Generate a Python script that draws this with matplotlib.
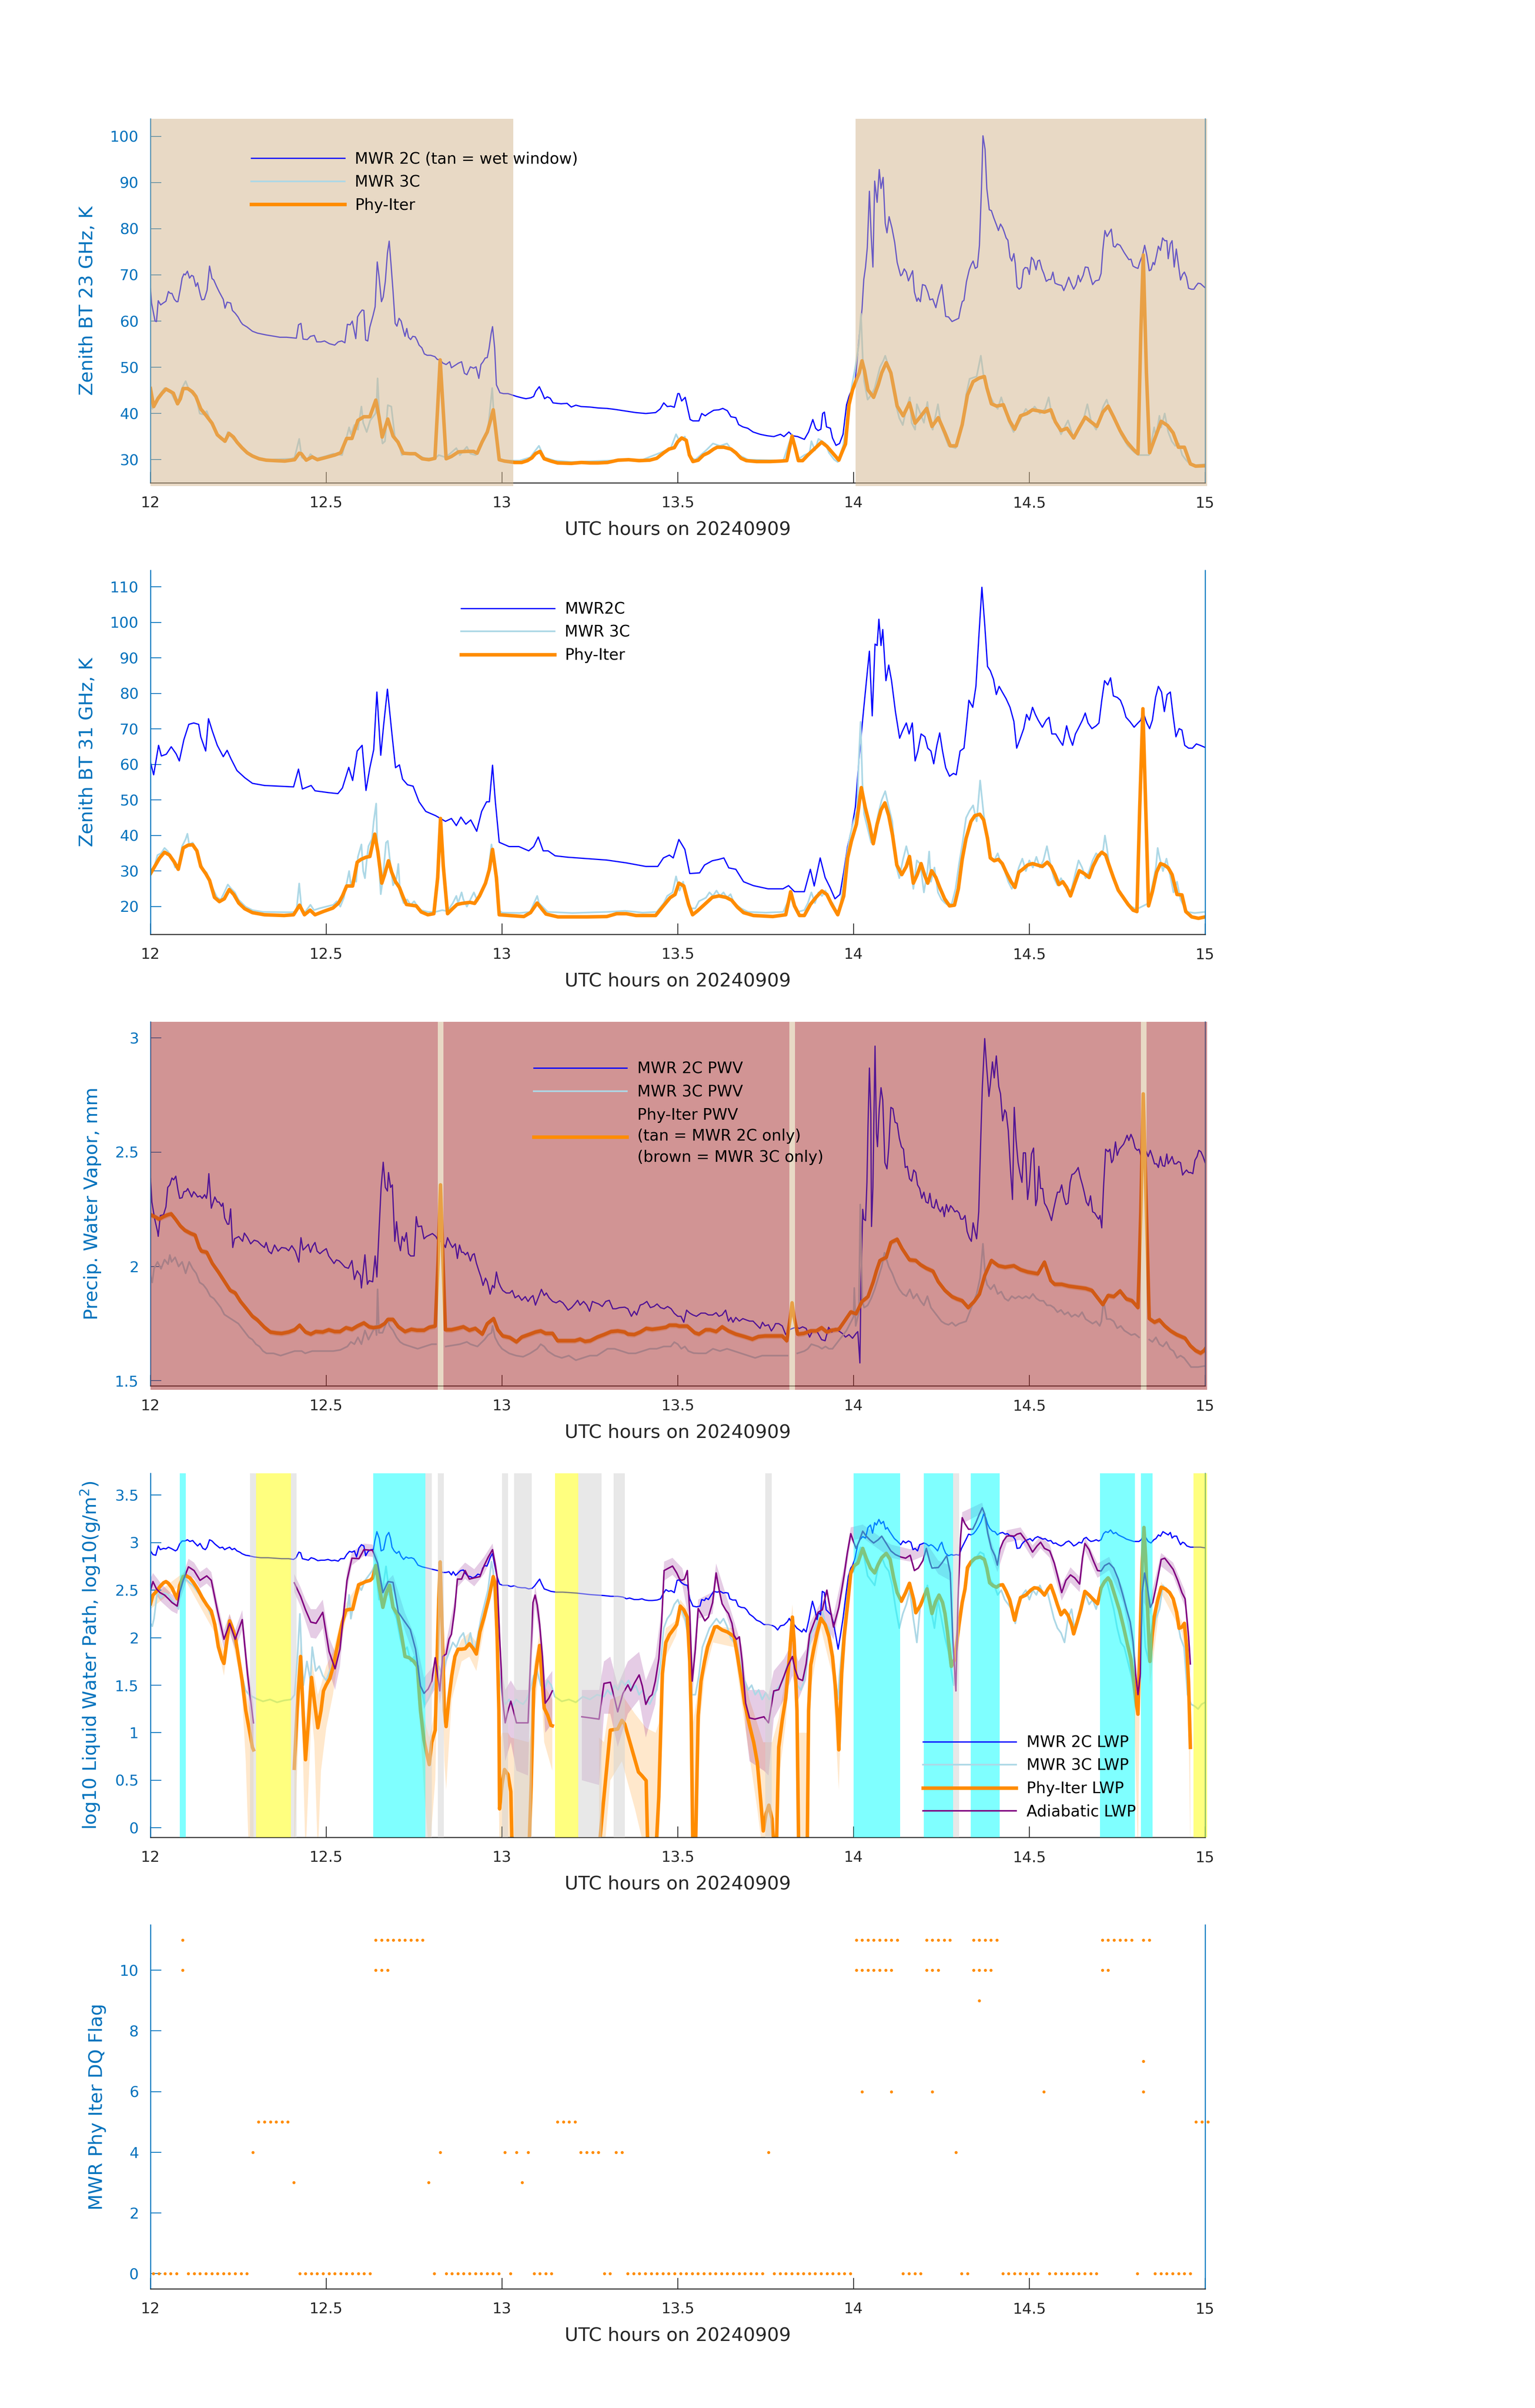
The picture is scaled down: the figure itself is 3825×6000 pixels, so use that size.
import numpy as np
import matplotlib
matplotlib.use("Agg")
import matplotlib.pyplot as plt

# ---------------------------------------------------------------- data
XTICKS = [12, 12.5, 13, 13.5, 14, 14.5, 15]
XTICKLABELS = ["12", "12.5", "13", "13.5", "14", "14.5", "15"]
XLABEL = "UTC hours on 20240909"

# Panel 1 : zenith BT 23 GHz (time [h], K)
BT23_2C = [(12.000,67.0),(12.003,63.9),(12.013,60.0),(12.017,59.9),(12.022,64.4),(12.029,63.5),(12.036,63.9),(12.044,64.3),(12.051,66.4),(12.056,66.0),(12.061,66.0),(12.068,64.7),(12.074,64.2),(12.078,64.2),(12.085,67.0),(12.090,69.3),(12.095,70.2),(12.099,70.0),(12.105,70.8),(12.111,69.3),(12.117,69.9),(12.122,69.7),(12.129,67.5),(12.134,68.3),(12.142,65.6),(12.146,64.6),(12.153,64.7),(12.161,66.7),(12.168,71.9),(12.175,69.2),(12.180,68.9),(12.188,67.5),(12.195,66.4),(12.207,64.7),(12.212,62.8),(12.218,64.1),(12.228,63.9),(12.233,62.3),(12.241,61.7),(12.249,60.9),(12.257,59.8),(12.262,59.3),(12.275,58.7),(12.290,57.8),(12.304,57.4),(12.329,57.0),(12.353,56.7),(12.368,56.5),(12.387,56.5),(12.415,56.3),(12.421,59.2),(12.428,59.5),(12.434,56.1),(12.446,56.0),(12.455,56.7),(12.466,56.9),(12.473,55.5),(12.485,55.5),(12.495,55.7),(12.509,55.1),(12.524,54.8),(12.534,55.5),(12.544,55.7),(12.553,55.3),(12.560,59.3),(12.568,59.2),(12.574,60.0),(12.584,56.2),(12.589,60.9),(12.595,61.7),(12.602,62.4),(12.607,62.3),(12.612,55.9),(12.618,55.7),(12.624,58.7),(12.633,61.2),(12.639,63.1),(12.645,72.8),(12.650,69.7),(12.657,64.2),(12.662,65.2),(12.668,68.6),(12.674,74.7),(12.679,77.3),(12.684,72.5),(12.690,66.4),(12.696,59.5),(12.701,58.9),(12.707,60.6),(12.713,60.0),(12.719,58.1),(12.724,56.7),(12.729,58.4),(12.734,56.5),(12.740,56.0),(12.746,56.7),(12.753,56.6),(12.758,55.9),(12.764,54.8),(12.772,54.2),(12.779,52.9),(12.787,52.6),(12.797,52.6),(12.809,52.3),(12.816,51.7),(12.824,51.6),(12.832,50.9),(12.841,50.6),(12.851,51.2),(12.856,49.9),(12.866,50.4),(12.876,50.9),(12.885,51.2),(12.893,48.7),(12.900,48.4),(12.910,50.1),(12.919,49.8),(12.926,50.1),(12.934,47.6),(12.940,50.6),(12.946,51.2),(12.952,52.0),(12.958,52.1),(12.963,54.0),(12.969,57.3),(12.973,58.8),(12.979,54.2),(12.984,46.2),(12.994,44.5),(13.004,44.3),(13.017,44.3),(13.029,44.0),(13.041,43.7),(13.056,43.4),(13.068,43.2),(13.082,43.4),(13.090,43.7),(13.096,44.8),(13.106,45.8),(13.114,44.5),(13.121,43.2),(13.129,43.6),(13.137,43.3),(13.145,42.3),(13.168,42.1),(13.185,42.2),(13.197,41.4),(13.210,41.8),(13.225,41.5),(13.250,41.4),(13.273,41.2),(13.298,41.1),(13.320,40.9),(13.354,40.5),(13.380,40.2),(13.409,40.0),(13.437,40.2),(13.450,41.0),(13.460,42.3),(13.470,41.5),(13.480,41.6),(13.490,41.35),(13.500,44.3),(13.504,44.3),(13.511,42.7),(13.521,43.5),(13.535,38.7),(13.543,38.4),(13.560,38.4),(13.568,40.0),(13.578,39.5),(13.587,40.0),(13.602,40.7),(13.617,40.8),(13.628,41.1),(13.641,40.6),(13.651,39.3),(13.665,39.1),(13.673,37.6),(13.685,37.1),(13.699,36.8),(13.714,36.0),(13.734,35.5),(13.753,35.2),(13.773,35.0),(13.792,35.5),(13.802,35.0),(13.816,36.0),(13.826,35.2),(13.841,35.0),(13.860,34.4),(13.872,36.0),(13.884,38.7),(13.892,36.8),(13.899,36.3),(13.907,36.6),(13.912,40.0),(13.917,40.3),(13.923,37.1),(13.934,36.8),(13.940,34.7),(13.950,33.1),(13.960,33.5),(13.970,35.5),(13.980,41.9),(13.987,43.7),(13.997,45.6),(14.005,47.2),(14.016,56.8),(14.024,62.6),(14.029,69.0),(14.034,71.7),(14.039,75.9),(14.045,88.1),(14.050,78.6),(14.055,71.7),(14.060,90.3),(14.067,85.7),(14.073,92.8),(14.078,88.7),(14.084,91.1),(14.090,81.2),(14.095,79.1),(14.101,82.6),(14.109,80.2),(14.117,77.0),(14.124,72.7),(14.134,69.8),(14.138,70.1),(14.144,71.3),(14.150,70.6),(14.156,68.7),(14.168,70.9),(14.173,66.3),(14.180,64.3),(14.184,65.0),(14.190,64.2),(14.196,67.9),(14.204,67.7),(14.211,66.3),(14.217,64.6),(14.225,64.8),(14.234,62.9),(14.241,65.3),(14.251,67.9),(14.256,64.7),(14.262,61.0),(14.270,60.9),(14.280,59.9),(14.288,60.2),(14.299,60.6),(14.304,62.6),(14.309,64.2),(14.314,64.5),(14.321,68.5),(14.329,71.1),(14.335,72.3),(14.340,73.0),(14.346,71.4),(14.352,71.7),(14.358,76.4),(14.364,89.2),(14.368,100.1),(14.374,97.2),(14.379,88.7),(14.386,84.1),(14.392,83.9),(14.399,82.3),(14.407,80.7),(14.412,79.6),(14.418,81.0),(14.424,80.2),(14.428,79.4),(14.434,78.0),(14.439,77.5),(14.445,73.8),(14.450,73.0),(14.456,74.6),(14.460,72.4),(14.465,67.4),(14.471,66.9),(14.477,67.3),(14.483,71.1),(14.488,71.6),(14.495,71.5),(14.500,70.1),(14.506,73.8),(14.512,73.2),(14.519,71.1),(14.524,73.0),(14.529,73.2),(14.536,71.2),(14.541,70.3),(14.548,68.6),(14.555,69.0),(14.561,69.0),(14.567,70.6),(14.573,68.2),(14.582,67.9),(14.592,67.7),(14.598,66.6),(14.604,67.7),(14.612,69.5),(14.620,67.9),(14.626,66.9),(14.633,67.9),(14.639,69.9),(14.645,68.5),(14.653,69.9),(14.659,71.7),(14.667,71.6),(14.673,69.8),(14.680,67.9),(14.688,68.7),(14.698,68.9),(14.704,70.3),(14.709,75.4),(14.715,79.6),(14.721,78.3),(14.727,79.1),(14.733,79.9),(14.739,76.2),(14.744,76.0),(14.750,76.7),(14.758,76.4),(14.764,75.6),(14.770,74.8),(14.777,74.0),(14.783,73.3),(14.789,73.4),(14.795,71.9),(14.802,71.6),(14.809,71.4),(14.814,72.7),(14.822,74.3),(14.828,76.4),(14.834,74.3),(14.841,70.9),(14.846,71.1),(14.852,72.7),(14.856,72.2),(14.862,74.3),(14.867,76.2),(14.873,75.3),(14.879,78.0),(14.885,77.4),(14.891,77.4),(14.895,73.5),(14.901,76.7),(14.906,77.4),(14.912,71.7),(14.918,75.6),(14.924,72.2),(14.930,68.9),(14.936,70.1),(14.941,70.6),(14.947,69.5),(14.953,67.1),(14.961,66.9),(14.968,66.9),(14.973,67.5),(14.980,68.2),(14.987,68.1),(14.997,67.4),(15.002,67.1)]

BT23_PI = [(12.000,45.4),(12.009,41.5),(12.021,43.2),(12.033,44.4),(12.044,45.3),(12.056,44.8),(12.065,44.4),(12.077,42.1),(12.085,43.2),(12.093,45.4),(12.106,45.4),(12.119,44.7),(12.129,43.7),(12.143,41.0),(12.158,39.6),(12.175,37.9),(12.190,35.4),(12.202,34.6),(12.212,34.0),(12.223,35.7),(12.236,34.9),(12.246,33.8),(12.260,32.6),(12.275,31.5),(12.290,30.8),(12.309,30.2),(12.329,29.9),(12.353,29.8),(12.382,29.7),(12.410,30.0),(12.423,31.4),(12.429,31.3),(12.443,29.9),(12.460,30.6),(12.475,30.0),(12.495,30.4),(12.524,31.0),(12.541,31.5),(12.558,34.6),(12.573,34.6),(12.590,38.5),(12.607,39.3),(12.624,39.3),(12.641,42.9),(12.650,39.3),(12.659,34.9),(12.675,38.8),(12.690,35.1),(12.704,33.8),(12.719,31.4),(12.738,31.3),(12.753,31.3),(12.773,30.2),(12.792,30.0),(12.809,30.3),(12.817,41.5),(12.824,51.6),(12.832,41.5),(12.841,30.2),(12.856,30.7),(12.876,31.7),(12.900,31.8),(12.919,31.8),(12.929,31.4),(12.943,33.8),(12.958,36.0),(12.968,38.7),(12.975,40.8),(12.982,36.5),(12.992,30.0),(13.007,29.7),(13.036,29.4),(13.056,29.4),(13.072,29.8),(13.085,30.4),(13.095,31.3),(13.108,31.8),(13.120,30.2),(13.139,29.7),(13.158,29.3),(13.197,29.2),(13.226,29.4),(13.250,29.3),(13.273,29.3),(13.300,29.4),(13.330,29.9),(13.360,30.0),(13.390,29.8),(13.420,29.9),(13.440,30.3),(13.460,31.5),(13.475,32.3),(13.490,32.6),(13.500,33.9),(13.511,34.7),(13.524,34.2),(13.533,31.0),(13.543,29.6),(13.558,29.9),(13.573,31.0),(13.587,31.5),(13.602,32.3),(13.612,32.7),(13.631,32.7),(13.651,32.3),(13.665,31.5),(13.680,30.3),(13.695,29.8),(13.724,29.6),(13.763,29.6),(13.792,29.7),(13.810,29.8),(13.825,35.1),(13.836,32.0),(13.843,29.8),(13.855,29.8),(13.870,31.0),(13.888,32.3),(13.909,33.8),(13.924,32.9),(13.940,31.5),(13.958,29.9),(13.968,31.8),(13.977,33.4),(13.987,41.9),(13.997,45.1),(14.010,47.7),(14.016,48.8),(14.024,51.4),(14.031,49.3),(14.041,45.1),(14.057,43.5),(14.070,46.2),(14.080,48.8),(14.093,51.0),(14.106,48.8),(14.114,45.6),(14.124,41.6),(14.141,39.5),(14.159,42.3),(14.175,37.9),(14.190,39.3),(14.208,41.1),(14.223,37.2),(14.241,39.1),(14.260,35.8),(14.275,33.0),(14.292,33.0),(14.309,37.6),(14.324,44.0),(14.340,46.9),(14.358,47.7),(14.372,48.0),(14.379,45.6),(14.392,42.1),(14.407,41.6),(14.426,41.9),(14.444,38.4),(14.458,36.6),(14.475,39.5),(14.493,40.0),(14.509,40.8),(14.524,40.6),(14.543,40.3),(14.561,40.8),(14.574,38.2),(14.590,36.3),(14.607,36.8),(14.626,34.7),(14.641,36.8),(14.659,39.2),(14.675,38.2),(14.692,37.2),(14.709,40.3),(14.724,41.6),(14.740,39.2),(14.758,36.3),(14.777,33.9),(14.795,32.3),(14.809,31.3),(14.817,57.3),(14.824,74.3),(14.833,48.8),(14.842,31.5),(14.856,34.4),(14.875,38.3),(14.893,37.4),(14.909,35.8),(14.924,32.7),(14.941,32.7),(14.958,29.1),(14.973,28.6),(15.002,28.7)]

BT23_3C = [(12.000,45.0),(12.005,41.0),(12.020,43.5),(12.040,45.5),(12.055,45.0),(12.075,42.0),(12.090,45.5),(12.100,47.0),(12.110,45.0),(12.130,43.5),(12.140,40.0),(12.150,39.8),(12.160,40.5),(12.175,37.5),(12.190,35.5),(12.210,33.8),(12.220,36.0),(12.235,34.5),(12.260,32.5),(12.290,30.8),(12.330,30.0),(12.400,30.2),(12.410,30.5),(12.423,34.5),(12.430,30.5),(12.445,29.8),(12.455,31.2),(12.470,30.2),(12.500,30.8),(12.520,31.3),(12.545,31.0),(12.555,34.0),(12.565,37.0),(12.570,35.5),(12.580,37.5),(12.590,36.5),(12.600,41.5),(12.605,38.0),(12.615,36.0),(12.625,38.5),(12.640,40.0),(12.643,42.0),(12.646,47.6),(12.652,38.0),(12.660,33.5),(12.667,34.0),(12.675,41.8),(12.685,41.5),(12.695,35.0),(12.705,33.8),(12.715,31.0),(12.730,31.5),(12.750,31.4),(12.780,30.3),(12.810,30.3),(12.820,31.0),(12.840,30.5),(12.870,32.5),(12.880,31.0),(12.900,32.8),(12.910,31.3),(12.925,31.0),(12.945,34.5),(12.960,36.5),(12.972,45.5),(12.978,38.0),(12.990,30.5),(13.000,29.8),(13.050,29.8),(13.080,30.5),(13.105,33.0),(13.120,30.5),(13.150,29.8),(13.200,29.5),(13.300,29.8),(13.400,30.0),(13.450,31.5),(13.480,32.5),(13.495,35.5),(13.505,34.0),(13.520,35.0),(13.535,30.5),(13.550,30.0),(13.580,32.0),(13.600,33.5),(13.620,33.0),(13.640,33.5),(13.660,31.5),(13.700,30.0),(13.800,29.8),(13.825,35.5),(13.840,30.0),(13.860,31.0),(13.875,31.5),(13.880,34.0),(13.890,32.0),(13.900,34.5),(13.920,33.5),(13.930,31.5),(13.945,30.0),(13.955,29.5),(13.970,33.0),(13.985,40.0),(13.995,46.0),(14.005,50.0),(14.015,55.0),(14.021,61.6),(14.026,52.0),(14.030,47.0),(14.040,43.0),(14.050,44.0),(14.060,45.5),(14.075,50.0),(14.085,51.5),(14.090,52.5),(14.100,50.0),(14.110,47.0),(14.120,42.0),(14.130,39.0),(14.140,37.5),(14.150,41.0),(14.160,43.5),(14.165,38.0),(14.175,36.5),(14.180,42.0),(14.190,40.0),(14.200,38.0),(14.210,42.5),(14.215,38.5),(14.225,36.5),(14.240,42.0),(14.250,37.0),(14.260,35.0),(14.270,33.0),(14.290,32.5),(14.300,35.0),(14.310,38.0),(14.320,44.0),(14.330,47.5),(14.350,48.0),(14.362,52.5),(14.370,48.0),(14.380,45.0),(14.400,42.0),(14.410,41.0),(14.420,43.5),(14.440,38.5),(14.455,36.0),(14.470,38.0),(14.490,41.0),(14.500,40.0),(14.515,41.5),(14.530,40.0),(14.545,41.0),(14.555,43.5),(14.565,39.0),(14.580,37.5),(14.590,35.5),(14.610,38.5),(14.625,34.8),(14.640,37.0),(14.655,39.0),(14.665,42.0),(14.675,38.5),(14.690,36.5),(14.710,41.5),(14.720,43.0),(14.730,40.5),(14.745,38.5),(14.760,35.5),(14.780,33.0),(14.800,31.5),(14.810,31.0),(14.840,31.0),(14.855,37.0),(14.860,35.0),(14.870,39.5),(14.875,37.0),(14.885,40.0),(14.895,36.0),(14.905,34.0),(14.915,33.0),(14.925,33.5),(14.935,31.0),(14.945,30.0),(14.955,29.2),(14.970,28.8),(15.000,29.0)]

# Panel 2 : zenith BT 31 GHz
BT31_2C = [(12.000,60.6),(12.009,57.1),(12.023,65.4),(12.031,62.4),(12.045,62.9),(12.059,65.0),(12.073,63.0),(12.082,61.0),(12.095,67.0),(12.109,71.3),(12.123,71.7),(12.137,71.3),(12.143,67.8),(12.157,63.8),(12.165,72.9),(12.176,69.4),(12.190,65.4),(12.207,62.2),(12.218,64.0),(12.229,61.6),(12.246,58.3),(12.268,56.3),(12.290,54.7),(12.324,54.1),(12.366,53.9),(12.407,53.7),(12.421,58.7),(12.432,53.1),(12.457,54.1),(12.468,52.6),(12.505,52.1),(12.533,51.8),(12.546,53.4),(12.564,59.2),(12.575,55.5),(12.588,63.8),(12.602,65.4),(12.613,52.7),(12.624,59.1),(12.635,64.2),(12.644,80.4),(12.655,62.6),(12.663,70.9),(12.674,81.2),(12.686,69.4),(12.697,59.1),(12.708,59.9),(12.717,55.9),(12.731,54.3),(12.747,53.9),(12.764,49.5),(12.783,46.8),(12.811,45.6),(12.839,44.0),(12.856,44.8),(12.870,42.8),(12.883,45.2),(12.897,43.2),(12.911,44.4),(12.928,41.2),(12.942,46.8),(12.956,49.5),(12.964,49.5),(12.973,59.8),(12.981,49.5),(12.992,38.1),(13.020,36.9),(13.048,36.9),(13.076,35.7),(13.090,36.9),(13.103,39.6),(13.117,35.7),(13.131,35.7),(13.151,34.3),(13.187,33.9),(13.242,33.5),(13.298,33.1),(13.354,32.3),(13.409,31.3),(13.443,31.3),(13.459,33.7),(13.476,34.5),(13.487,33.7),(13.503,38.9),(13.520,36.1),(13.534,29.3),(13.562,29.5),(13.576,31.7),(13.598,32.9),(13.617,33.3),(13.631,33.7),(13.645,30.9),(13.665,30.5),(13.687,27.0),(13.715,25.9),(13.757,25.0),(13.799,25.0),(13.815,25.9),(13.832,24.2),(13.860,24.2),(13.877,30.5),(13.888,25.8),(13.905,33.7),(13.919,28.2),(13.933,25.4),(13.947,22.2),(13.961,23.4),(13.972,29.7),(13.983,36.9),(13.994,41.6),(14.005,48.0),(14.016,62.2),(14.028,74.9),(14.039,86.0),(14.045,91.9),(14.053,73.7),(14.061,93.9),(14.067,93.5),(14.072,100.9),(14.078,93.5),(14.083,98.0),(14.092,83.6),(14.100,88.0),(14.108,83.6),(14.119,74.9),(14.131,67.4),(14.139,69.4),(14.150,71.7),(14.158,68.6),(14.167,71.7),(14.175,61.0),(14.183,63.8),(14.192,68.6),(14.203,67.8),(14.211,64.6),(14.220,63.8),(14.228,60.2),(14.237,65.4),(14.245,68.9),(14.253,63.8),(14.262,59.1),(14.273,56.7),(14.284,57.5),(14.292,57.1),(14.303,63.8),(14.314,64.6),(14.320,70.1),(14.328,78.1),(14.339,76.1),(14.348,82.0),(14.356,95.5),(14.365,109.9),(14.373,99.5),(14.381,87.6),(14.389,86.4),(14.398,84.0),(14.406,79.7),(14.414,82.0),(14.423,80.4),(14.434,78.5),(14.445,76.1),(14.456,72.1),(14.464,64.6),(14.473,67.0),(14.484,70.1),(14.492,74.1),(14.500,72.5),(14.509,76.1),(14.517,74.1),(14.525,72.5),(14.537,70.5),(14.548,72.5),(14.556,73.3),(14.564,68.6),(14.575,68.6),(14.587,66.6),(14.595,65.4),(14.606,70.9),(14.614,67.8),(14.623,65.4),(14.631,68.6),(14.639,70.1),(14.651,72.5),(14.659,74.5),(14.667,71.7),(14.678,70.1),(14.690,70.9),(14.698,71.7),(14.706,78.1),(14.714,83.6),(14.723,82.4),(14.731,84.4),(14.739,79.3),(14.750,78.9),(14.759,78.1),(14.767,76.1),(14.775,73.3),(14.786,72.1),(14.798,70.5),(14.809,71.7),(14.817,72.5),(14.823,74.9),(14.834,71.7),(14.842,70.1),(14.850,72.5),(14.859,78.9),(14.867,82.0),(14.876,80.4),(14.884,74.9),(14.892,79.7),(14.901,80.4),(14.909,73.7),(14.917,67.8),(14.926,70.1),(14.934,69.7),(14.942,65.4),(14.953,64.6),(14.964,64.6),(14.975,65.8),(14.986,65.4),(15.000,64.8)]

BT31_PI = [(12.000,29.3),(12.012,31.3),(12.026,33.7),(12.040,35.3),(12.054,34.5),(12.068,32.5),(12.079,30.5),(12.093,36.5),(12.107,37.3),(12.120,37.4),(12.132,35.7),(12.143,31.3),(12.157,29.3),(12.168,27.4),(12.182,22.6),(12.196,21.4),(12.210,22.2),(12.224,24.8),(12.237,23.4),(12.251,21.0),(12.268,19.4),(12.290,18.3),(12.324,17.7),(12.380,17.5),(12.407,17.7),(12.424,20.4),(12.438,17.7),(12.454,19.0),(12.468,17.7),(12.491,18.6),(12.519,19.6),(12.535,21.0),(12.546,23.0),(12.558,25.8),(12.575,25.8),(12.588,32.5),(12.599,33.3),(12.613,33.9),(12.624,34.1),(12.638,40.4),(12.647,35.3),(12.658,26.6),(12.666,29.0),(12.677,32.9),(12.686,29.7),(12.697,27.0),(12.708,25.4),(12.719,22.6),(12.728,20.6),(12.742,20.4),(12.756,20.2),(12.770,18.5),(12.789,17.7),(12.806,18.0),(12.817,28.2),(12.825,44.8),(12.833,31.3),(12.845,18.0),(12.858,19.3),(12.872,20.6),(12.886,20.9),(12.909,21.2),(12.922,20.9),(12.936,23.0),(12.953,26.6),(12.964,30.5),(12.973,36.1),(12.984,28.2),(12.992,17.7),(13.020,17.5),(13.062,17.2),(13.081,18.3),(13.100,21.0),(13.111,19.6),(13.125,17.9),(13.159,17.1),(13.242,17.1),(13.298,17.2),(13.326,18.0),(13.354,18.0),(13.381,17.5),(13.437,17.5),(13.459,20.2),(13.478,22.5),(13.492,23.4),(13.503,26.6),(13.517,25.8),(13.531,20.6),(13.542,17.7),(13.556,18.8),(13.576,20.6),(13.598,22.6),(13.617,23.0),(13.637,22.6),(13.653,21.8),(13.670,19.8),(13.687,18.3),(13.715,17.5),(13.770,17.2),(13.807,17.7),(13.821,24.2),(13.832,20.2),(13.846,17.5),(13.860,17.5),(13.877,20.6),(13.893,22.6),(13.910,24.4),(13.924,23.4),(13.938,20.6),(13.955,17.7),(13.972,23.0),(13.983,33.7),(13.994,38.5),(14.008,43.2),(14.022,53.5),(14.033,48.0),(14.045,43.2),(14.056,37.7),(14.067,43.2),(14.078,47.2),(14.089,49.2),(14.100,45.6),(14.111,40.0),(14.123,31.7),(14.137,29.0),(14.150,31.3),(14.159,34.1),(14.170,26.6),(14.181,29.0),(14.192,32.1),(14.203,28.6),(14.211,26.6),(14.222,30.1),(14.234,28.2),(14.245,25.4),(14.259,22.2),(14.273,20.2),(14.287,20.4),(14.298,25.0),(14.309,33.3),(14.320,39.2),(14.334,44.0),(14.345,45.6),(14.359,46.0),(14.370,44.4),(14.381,39.2),(14.389,33.7),(14.400,32.9),(14.412,33.3),(14.423,32.1),(14.434,29.7),(14.448,27.0),(14.459,25.4),(14.470,29.7),(14.481,30.5),(14.495,31.7),(14.509,32.1),(14.523,31.7),(14.537,31.3),(14.551,32.5),(14.562,31.3),(14.573,29.0),(14.584,26.2),(14.595,27.0),(14.606,25.4),(14.617,23.0),(14.628,26.2),(14.642,30.1),(14.656,29.3),(14.670,28.2),(14.681,31.3),(14.695,34.1),(14.706,35.3),(14.717,34.5),(14.728,31.3),(14.739,28.2),(14.753,24.6),(14.767,22.6),(14.781,20.6),(14.795,19.0),(14.806,18.6),(14.814,48.0),(14.823,75.7),(14.831,48.0),(14.839,20.2),(14.850,24.2),(14.862,29.7),(14.873,32.1),(14.884,31.7),(14.895,30.9),(14.906,29.0),(14.920,23.4),(14.934,23.3),(14.945,18.6),(14.962,17.1),(14.981,16.7),(15.000,17.1)]

BT31_3C = [(12.000,30.0),(12.010,31.0),(12.020,34.5),(12.030,35.0),(12.040,36.5),(12.050,35.5),(12.060,34.0),(12.070,31.0),(12.080,32.0),(12.090,37.0),(12.100,39.0),(12.105,40.5),(12.110,37.5),(12.120,38.0),(12.130,36.0),(12.140,33.0),(12.150,30.5),(12.160,29.5),(12.170,27.0),(12.180,24.5),(12.190,22.5),(12.200,22.0),(12.210,24.0),(12.220,26.2),(12.230,25.0),(12.240,24.0),(12.250,22.0),(12.270,20.0),(12.290,19.0),(12.320,18.5),(12.400,18.4),(12.415,18.6),(12.423,26.5),(12.430,19.0),(12.440,18.5),(12.455,20.5),(12.465,19.0),(12.480,19.5),(12.500,20.0),(12.520,20.5),(12.530,21.5),(12.540,20.0),(12.550,22.5),(12.565,30.0),(12.570,26.0),(12.580,29.0),(12.585,27.0),(12.590,34.0),(12.600,37.5),(12.605,30.0),(12.610,28.0),(12.615,33.0),(12.620,37.0),(12.630,39.0),(12.635,44.0),(12.642,49.0),(12.645,38.0),(12.650,32.0),(12.655,23.5),(12.660,27.0),(12.670,38.0),(12.675,38.5),(12.680,34.0),(12.690,26.0),(12.700,28.0),(12.705,32.0),(12.710,24.0),(12.720,21.0),(12.730,22.0),(12.740,20.5),(12.750,21.5),(12.760,20.0),(12.770,19.0),(12.790,18.5),(12.810,18.5),(12.830,19.0),(12.840,18.8),(12.850,19.5),(12.860,21.0),(12.870,23.0),(12.875,21.0),(12.885,24.0),(12.890,22.0),(12.900,20.0),(12.910,22.0),(12.920,24.0),(12.930,21.5),(12.940,24.0),(12.950,26.0),(12.960,29.0),(12.970,37.5),(12.975,34.0),(12.985,25.0),(12.990,19.0),(13.000,18.3),(13.050,18.2),(13.080,18.5),(13.100,23.0),(13.105,21.0),(13.115,20.0),(13.130,18.5),(13.200,18.2),(13.300,18.5),(13.350,18.8),(13.400,18.3),(13.440,18.5),(13.460,21.0),(13.470,23.0),(13.485,24.0),(13.495,28.5),(13.505,24.5),(13.515,27.0),(13.525,23.0),(13.535,19.5),(13.550,19.5),(13.560,21.5),(13.580,22.5),(13.590,24.0),(13.600,23.0),(13.610,24.5),(13.620,23.0),(13.630,24.0),(13.640,22.5),(13.650,23.5),(13.660,21.0),(13.680,19.5),(13.700,18.5),(13.750,18.3),(13.800,18.5),(13.820,23.0),(13.830,20.0),(13.840,18.5),(13.860,19.0),(13.870,21.0),(13.880,24.0),(13.890,21.0),(13.900,24.0),(13.910,23.0),(13.920,24.5),(13.930,22.0),(13.940,21.0),(13.950,19.0),(13.960,18.5),(13.970,26.0),(13.980,34.0),(13.990,40.0),(14.000,44.0),(14.010,47.0),(14.015,62.0),(14.020,72.0),(14.025,55.0),(14.030,46.0),(14.040,42.0),(14.050,38.0),(14.060,41.0),(14.070,46.0),(14.080,50.0),(14.090,52.5),(14.100,48.0),(14.110,44.0),(14.120,32.0),(14.130,28.0),(14.140,33.0),(14.150,37.0),(14.160,33.0),(14.170,25.0),(14.180,33.0),(14.190,32.0),(14.200,24.0),(14.210,30.0),(14.215,35.5),(14.220,27.0),(14.230,31.0),(14.240,24.0),(14.250,22.0),(14.260,21.0),(14.270,20.3),(14.280,21.0),(14.290,25.0),(14.300,32.0),(14.310,38.0),(14.320,45.0),(14.330,47.0),(14.340,48.5),(14.350,44.0),(14.360,55.5),(14.370,46.0),(14.380,40.0),(14.390,34.0),(14.400,33.0),(14.410,35.0),(14.420,32.0),(14.430,30.0),(14.440,27.0),(14.450,25.0),(14.460,27.0),(14.470,31.0),(14.480,33.5),(14.490,30.0),(14.500,33.0),(14.510,31.0),(14.520,34.0),(14.530,31.0),(14.540,33.0),(14.550,37.0),(14.560,32.0),(14.570,28.0),(14.580,26.0),(14.590,28.0),(14.600,26.0),(14.610,24.0),(14.620,25.0),(14.630,29.0),(14.640,33.0),(14.650,31.0),(14.660,28.0),(14.670,30.0),(14.680,33.0),(14.690,35.0),(14.700,34.0),(14.710,36.0),(14.715,40.0),(14.720,37.0),(14.730,30.0),(14.740,28.0),(14.750,25.0),(14.770,22.0),(14.790,20.0),(14.800,19.5),(14.810,19.5),(14.840,21.0),(14.850,26.0),(14.860,31.0),(14.865,36.5),(14.870,34.0),(14.880,30.0),(14.890,33.5),(14.900,29.0),(14.910,24.0),(14.920,27.0),(14.930,22.0),(14.940,20.0),(14.950,18.5),(14.970,18.2),(15.000,18.5)]

# Panel 3 : precipitable water vapour (mm)
PWV_2C = [(12.000,2.384),(12.004,2.282),(12.012,2.207),(12.020,2.153),(12.022,2.132),(12.028,2.223),(12.037,2.226),(12.044,2.261),(12.049,2.346),(12.055,2.357),(12.061,2.387),(12.066,2.379),(12.072,2.395),(12.078,2.336),(12.083,2.298),(12.090,2.301),(12.095,2.327),(12.102,2.330),(12.106,2.341),(12.111,2.325),(12.117,2.304),(12.123,2.327),(12.129,2.316),(12.134,2.304),(12.141,2.309),(12.147,2.298),(12.154,2.314),(12.159,2.298),(12.162,2.325),(12.166,2.406),(12.173,2.255),(12.183,2.304),(12.190,2.282),(12.195,2.282),(12.202,2.263),(12.206,2.277),(12.211,2.212),(12.219,2.185),(12.223,2.185),(12.228,2.252),(12.234,2.083),(12.239,2.121),(12.251,2.131),(12.262,2.110),(12.267,2.146),(12.276,2.126),(12.285,2.099),(12.295,2.115),(12.305,2.110),(12.315,2.094),(12.324,2.083),(12.329,2.105),(12.336,2.067),(12.344,2.056),(12.353,2.094),(12.363,2.067),(12.373,2.083),(12.385,2.080),(12.393,2.069),(12.402,2.091),(12.412,2.067),(12.422,2.019),(12.428,2.126),(12.434,2.072),(12.441,2.083),(12.449,2.097),(12.455,2.062),(12.461,2.088),(12.468,2.105),(12.474,2.067),(12.482,2.056),(12.490,2.067),(12.500,2.078),(12.507,2.046),(12.515,2.029),(12.522,2.013),(12.529,2.029),(12.537,2.024),(12.544,2.013),(12.553,1.997),(12.563,1.992),(12.573,2.026),(12.580,1.943),(12.588,1.981),(12.597,1.960),(12.600,1.906),(12.610,2.051),(12.617,1.922),(12.622,1.938),(12.632,1.933),(12.639,2.046),(12.644,1.954),(12.650,2.153),(12.656,2.346),(12.662,2.456),(12.668,2.346),(12.674,2.330),(12.677,2.411),(12.683,2.346),(12.688,2.357),(12.695,2.110),(12.700,2.196),(12.706,2.105),(12.711,2.069),(12.716,2.131),(12.722,2.110),(12.728,2.148),(12.734,2.056),(12.740,2.046),(12.750,2.046),(12.756,2.218),(12.761,2.174),(12.771,2.177),(12.778,2.121),(12.785,2.131),(12.793,2.137),(12.802,2.144),(12.812,2.131),(12.819,2.110),(12.830,2.110),(12.839,2.083),(12.845,2.126),(12.853,2.099),(12.859,2.083),(12.867,2.099),(12.873,2.035),(12.879,2.094),(12.885,2.062),(12.890,2.062),(12.896,2.051),(12.902,2.062),(12.910,2.024),(12.916,2.051),(12.921,2.056),(12.927,2.015),(12.934,1.981),(12.940,1.954),(12.946,1.917),(12.953,1.949),(12.958,1.933),(12.966,1.879),(12.973,1.917),(12.978,1.906),(12.984,1.976),(12.990,1.933),(12.996,1.911),(13.002,1.895),(13.012,1.884),(13.022,1.884),(13.029,1.895),(13.037,1.863),(13.047,1.873),(13.056,1.852),(13.066,1.868),(13.074,1.847),(13.081,1.863),(13.088,1.873),(13.095,1.831),(13.103,1.863),(13.112,1.900),(13.120,1.873),(13.126,1.884),(13.134,1.863),(13.144,1.847),(13.154,1.841),(13.164,1.850),(13.173,1.841),(13.181,1.825),(13.188,1.809),(13.198,1.820),(13.207,1.836),(13.215,1.852),(13.222,1.831),(13.232,1.847),(13.241,1.831),(13.249,1.804),(13.257,1.847),(13.266,1.841),(13.275,1.836),(13.285,1.825),(13.295,1.847),(13.305,1.852),(13.315,1.815),(13.324,1.815),(13.334,1.820),(13.349,1.822),(13.358,1.815),(13.368,1.782),(13.376,1.804),(13.383,1.788),(13.393,1.831),(13.402,1.836),(13.412,1.847),(13.422,1.820),(13.432,1.825),(13.441,1.836),(13.451,1.820),(13.461,1.815),(13.471,1.825),(13.481,1.815),(13.490,1.795),(13.500,1.782),(13.509,1.782),(13.517,1.756),(13.525,1.809),(13.534,1.796),(13.543,1.788),(13.553,1.782),(13.566,1.796),(13.578,1.796),(13.587,1.788),(13.599,1.788),(13.609,1.798),(13.617,1.782),(13.626,1.788),(13.636,1.809),(13.644,1.761),(13.651,1.777),(13.657,1.756),(13.665,1.777),(13.675,1.761),(13.685,1.772),(13.695,1.766),(13.704,1.761),(13.714,1.761),(13.724,1.745),(13.734,1.729),(13.741,1.756),(13.748,1.740),(13.758,1.745),(13.766,1.718),(13.773,1.734),(13.778,1.750),(13.787,1.750),(13.797,1.740),(13.807,1.702),(13.817,1.723),(13.826,1.729),(13.836,1.734),(13.846,1.729),(13.855,1.736),(13.865,1.729),(13.875,1.691),(13.885,1.723),(13.897,1.713),(13.909,1.680),(13.919,1.675),(13.929,1.734),(13.938,1.713),(13.948,1.729),(13.958,1.718),(13.968,1.707),(13.977,1.691),(13.987,1.702),(13.997,1.686),(14.007,1.707),(14.012,1.715),(14.018,1.578),(14.021,1.917),(14.026,2.250),(14.029,2.207),(14.034,2.201),(14.038,2.368),(14.041,2.615),(14.045,2.868),(14.049,2.669),(14.051,2.175),(14.055,2.346),(14.058,2.669),(14.061,2.964),(14.065,2.583),(14.068,2.524),(14.073,2.690),(14.078,2.782),(14.083,2.728),(14.089,2.454),(14.095,2.427),(14.100,2.518),(14.106,2.696),(14.112,2.690),(14.118,2.631),(14.124,2.626),(14.130,2.562),(14.136,2.524),(14.142,2.513),(14.147,2.433),(14.153,2.438),(14.159,2.384),(14.165,2.373),(14.171,2.422),(14.177,2.411),(14.182,2.357),(14.188,2.341),(14.194,2.298),(14.200,2.325),(14.206,2.282),(14.212,2.277),(14.217,2.320),(14.223,2.261),(14.229,2.255),(14.235,2.293),(14.241,2.255),(14.247,2.239),(14.253,2.261),(14.258,2.218),(14.264,2.271),(14.270,2.239),(14.276,2.266),(14.282,2.255),(14.288,2.239),(14.294,2.244),(14.300,2.234),(14.305,2.207),(14.311,2.207),(14.317,2.223),(14.323,2.153),(14.329,2.126),(14.335,2.110),(14.340,2.191),(14.346,2.148),(14.350,2.121),(14.356,2.239),(14.361,2.518),(14.366,2.776),(14.373,2.997),(14.378,2.884),(14.385,2.744),(14.389,2.798),(14.395,2.895),(14.400,2.825),(14.406,2.921),(14.413,2.787),(14.418,2.755),(14.424,2.637),(14.430,2.685),(14.434,2.674),(14.440,2.594),(14.446,2.433),(14.452,2.293),(14.457,2.696),(14.462,2.556),(14.468,2.454),(14.473,2.411),(14.479,2.368),(14.483,2.497),(14.489,2.497),(14.495,2.293),(14.500,2.357),(14.506,2.492),(14.512,2.518),(14.518,2.266),(14.522,2.293),(14.527,2.438),(14.532,2.341),(14.538,2.341),(14.543,2.277),(14.549,2.261),(14.555,2.239),(14.563,2.201),(14.569,2.250),(14.575,2.293),(14.580,2.325),(14.586,2.325),(14.592,2.357),(14.598,2.304),(14.604,2.271),(14.610,2.277),(14.616,2.368),(14.621,2.402),(14.627,2.406),(14.633,2.417),(14.639,2.433),(14.645,2.389),(14.651,2.357),(14.656,2.325),(14.662,2.282),(14.668,2.266),(14.674,2.309),(14.680,2.239),(14.686,2.234),(14.692,2.218),(14.697,2.207),(14.701,2.223),(14.706,2.169),(14.711,2.346),(14.717,2.513),(14.724,2.502),(14.729,2.513),(14.734,2.454),(14.738,2.465),(14.745,2.545),(14.750,2.486),(14.756,2.513),(14.762,2.524),(14.768,2.535),(14.773,2.553),(14.778,2.574),(14.783,2.551),(14.789,2.578),(14.795,2.556),(14.801,2.518),(14.807,2.508),(14.812,2.513),(14.818,2.481),(14.824,2.497),(14.831,2.508),(14.838,2.481),(14.844,2.508),(14.850,2.481),(14.856,2.449),(14.862,2.449),(14.867,2.433),(14.873,2.481),(14.879,2.441),(14.885,2.438),(14.891,2.492),(14.895,2.449),(14.901,2.465),(14.906,2.481),(14.912,2.449),(14.918,2.449),(14.924,2.459),(14.930,2.454),(14.936,2.400),(14.941,2.411),(14.947,2.422),(14.953,2.411),(14.959,2.411),(14.965,2.406),(14.971,2.465),(14.977,2.481),(14.982,2.508),(14.988,2.502),(14.994,2.481),(15.000,2.454)]

PWV_PI = [(12.000,2.226),(12.012,2.218),(12.024,2.207),(12.037,2.218),(12.049,2.226),(12.059,2.230),(12.071,2.207),(12.085,2.177),(12.098,2.158),(12.115,2.144),(12.127,2.137),(12.139,2.083),(12.145,2.067),(12.160,2.062),(12.176,2.013),(12.193,1.976),(12.209,1.938),(12.227,1.895),(12.241,1.884),(12.256,1.847),(12.273,1.815),(12.290,1.782),(12.304,1.766),(12.324,1.734),(12.341,1.713),(12.358,1.709),(12.373,1.707),(12.393,1.713),(12.410,1.723),(12.424,1.743),(12.432,1.729),(12.441,1.713),(12.456,1.704),(12.470,1.715),(12.490,1.713),(12.507,1.723),(12.524,1.715),(12.539,1.715),(12.556,1.732),(12.573,1.725),(12.588,1.739),(12.607,1.753),(12.622,1.736),(12.634,1.732),(12.651,1.736),(12.666,1.750),(12.675,1.768),(12.690,1.768),(12.705,1.736),(12.724,1.715),(12.742,1.725),(12.758,1.721),(12.778,1.721),(12.793,1.734),(12.810,1.739),(12.818,2.024),(12.825,2.357),(12.832,2.024),(12.839,1.723),(12.856,1.723),(12.873,1.729),(12.890,1.736),(12.907,1.721),(12.924,1.729),(12.944,1.704),(12.958,1.750),(12.976,1.772),(12.988,1.723),(13.002,1.696),(13.022,1.689),(13.041,1.670),(13.056,1.691),(13.076,1.702),(13.095,1.713),(13.110,1.718),(13.124,1.707),(13.144,1.707),(13.158,1.675),(13.178,1.675),(13.207,1.675),(13.222,1.682),(13.236,1.672),(13.251,1.675),(13.271,1.691),(13.290,1.702),(13.310,1.715),(13.329,1.718),(13.349,1.713),(13.358,1.704),(13.376,1.702),(13.393,1.713),(13.410,1.729),(13.427,1.725),(13.447,1.729),(13.466,1.734),(13.476,1.743),(13.495,1.743),(13.504,1.739),(13.527,1.739),(13.548,1.710),(13.560,1.704),(13.579,1.723),(13.592,1.723),(13.609,1.715),(13.626,1.736),(13.644,1.718),(13.665,1.704),(13.690,1.693),(13.712,1.682),(13.729,1.693),(13.748,1.696),(13.773,1.696),(13.797,1.696),(13.810,1.675),(13.820,1.777),(13.825,1.841),(13.831,1.777),(13.841,1.704),(13.858,1.707),(13.878,1.718),(13.894,1.718),(13.909,1.732),(13.924,1.713),(13.938,1.721),(13.958,1.725),(13.972,1.756),(13.992,1.801),(14.007,1.793),(14.024,1.847),(14.041,1.868),(14.056,1.933),(14.065,1.981),(14.075,2.026),(14.093,2.040),(14.106,2.105),(14.124,2.119),(14.138,2.078),(14.159,2.029),(14.177,2.026),(14.190,2.008),(14.207,1.992),(14.226,1.979),(14.241,1.933),(14.260,1.895),(14.280,1.868),(14.294,1.858),(14.309,1.850),(14.326,1.820),(14.343,1.847),(14.358,1.879),(14.373,1.960),(14.392,2.026),(14.412,2.003),(14.431,1.997),(14.456,2.003),(14.475,1.986),(14.495,1.976),(14.524,1.968),(14.543,2.019),(14.561,1.938),(14.572,1.922),(14.592,1.922),(14.612,1.914),(14.641,1.908),(14.660,1.904),(14.678,1.895),(14.694,1.863),(14.709,1.833),(14.724,1.873),(14.740,1.868),(14.758,1.893),(14.776,1.858),(14.792,1.850),(14.809,1.820),(14.817,2.239),(14.824,2.755),(14.833,2.239),(14.841,1.772),(14.856,1.756),(14.870,1.766),(14.885,1.740),(14.902,1.718),(14.919,1.702),(14.943,1.686),(14.958,1.653),(14.973,1.632),(14.987,1.621),(14.997,1.632),(15.002,1.643)]
PWV_PI_ERR = 0.012

PWV_3C = [(12.000,1.960),(12.005,1.930),(12.010,1.990),(12.020,2.020),(12.030,1.990),(12.040,2.030),(12.050,2.010),(12.055,2.050),(12.060,2.020),(12.070,2.040),(12.080,2.000),(12.090,2.020),(12.100,1.970),(12.110,2.020),(12.120,1.990),(12.130,1.970),(12.140,1.930),(12.150,1.920),(12.160,1.900),(12.170,1.870),(12.180,1.860),(12.190,1.840),(12.200,1.820),(12.210,1.790),(12.220,1.780),(12.230,1.770),(12.240,1.760),(12.250,1.750),(12.260,1.730),(12.270,1.710),(12.280,1.690),(12.290,1.680),(12.300,1.660),(12.310,1.650),(12.320,1.630),(12.330,1.620),(12.350,1.620),(12.370,1.610),(12.390,1.620),(12.410,1.630),(12.430,1.630),(12.440,1.620),(12.460,1.630),(12.480,1.630),(12.500,1.630),(12.520,1.630),(12.540,1.635),(12.560,1.650),(12.570,1.670),(12.580,1.660),(12.590,1.690),(12.600,1.660),(12.610,1.720),(12.620,1.680),(12.630,1.710),(12.640,1.740),(12.643,1.700),(12.646,1.900),(12.650,1.710),(12.660,1.710),(12.670,1.750),(12.675,1.765),(12.680,1.740),(12.690,1.720),(12.700,1.690),(12.710,1.670),(12.720,1.660),(12.740,1.650),(12.760,1.640),(12.780,1.650),(12.800,1.660),(12.812,1.660),(12.813,np.nan),(12.839,np.nan),(12.840,1.650),(12.860,1.655),(12.880,1.660),(12.900,1.670),(12.910,1.660),(12.930,1.650),(12.950,1.680),(12.960,1.700),(12.970,1.710),(12.973,1.740),(12.980,1.690),(12.990,1.660),(13.000,1.640),(13.020,1.620),(13.040,1.610),(13.060,1.605),(13.080,1.620),(13.100,1.640),(13.110,1.660),(13.120,1.650),(13.130,1.630),(13.150,1.610),(13.170,1.600),(13.190,1.610),(13.210,1.590),(13.230,1.600),(13.250,1.610),(13.270,1.610),(13.290,1.630),(13.300,1.640),(13.320,1.640),(13.340,1.630),(13.360,1.620),(13.380,1.620),(13.400,1.630),(13.420,1.640),(13.440,1.640),(13.460,1.650),(13.480,1.650),(13.490,1.669),(13.500,1.660),(13.510,1.640),(13.520,1.650),(13.530,1.630),(13.545,1.621),(13.560,1.620),(13.580,1.620),(13.600,1.640),(13.620,1.630),(13.640,1.640),(13.660,1.630),(13.680,1.620),(13.700,1.610),(13.720,1.600),(13.740,1.610),(13.760,1.610),(13.780,1.610),(13.800,1.610),(13.812,1.610),(13.813,np.nan),(13.839,np.nan),(13.840,1.620),(13.860,1.630),(13.870,1.640),(13.880,1.660),(13.900,1.650),(13.910,1.640),(13.920,1.650),(13.930,1.640),(13.940,1.640),(13.950,1.660),(13.960,1.680),(13.970,1.700),(13.980,1.720),(13.990,1.750),(14.000,1.780),(14.002,1.906),(14.006,1.740),(14.015,1.800),(14.019,2.271),(14.025,1.850),(14.030,1.820),(14.040,1.830),(14.050,1.860),(14.060,1.900),(14.070,1.950),(14.080,2.000),(14.088,2.060),(14.100,2.000),(14.110,1.970),(14.120,1.930),(14.130,1.900),(14.140,1.880),(14.150,1.870),(14.160,1.900),(14.170,1.860),(14.180,1.880),(14.190,1.850),(14.200,1.830),(14.210,1.870),(14.220,1.820),(14.230,1.800),(14.240,1.780),(14.250,1.760),(14.260,1.750),(14.270,1.745),(14.280,1.755),(14.290,1.740),(14.300,1.750),(14.320,1.760),(14.330,1.800),(14.340,1.840),(14.350,1.880),(14.360,1.950),(14.368,2.099),(14.375,1.950),(14.380,1.920),(14.390,1.900),(14.400,1.920),(14.410,1.880),(14.420,1.890),(14.430,1.860),(14.440,1.850),(14.450,1.870),(14.460,1.860),(14.470,1.870),(14.480,1.860),(14.490,1.870),(14.500,1.860),(14.510,1.880),(14.520,1.860),(14.530,1.850),(14.540,1.850),(14.550,1.830),(14.560,1.830),(14.570,1.820),(14.580,1.800),(14.590,1.810),(14.600,1.790),(14.610,1.800),(14.620,1.780),(14.630,1.790),(14.640,1.780),(14.650,1.800),(14.660,1.770),(14.670,1.760),(14.680,1.750),(14.690,1.760),(14.700,1.740),(14.705,1.760),(14.711,1.852),(14.720,1.770),(14.730,1.770),(14.740,1.760),(14.750,1.730),(14.760,1.740),(14.770,1.720),(14.780,1.710),(14.790,1.700),(14.800,1.705),(14.812,1.690),(14.813,np.nan),(14.839,np.nan),(14.841,1.680),(14.850,1.670),(14.860,1.690),(14.870,1.660),(14.880,1.650),(14.890,1.670),(14.900,1.640),(14.910,1.630),(14.920,1.600),(14.930,1.610),(14.940,1.600),(14.950,1.580),(14.960,1.560),(14.970,1.560),(14.980,1.560),(15.000,1.565)]

# Panel 4 : log10 liquid water path
LWP_2C = [(12.000,2.913),(12.007,2.874),(12.015,2.867),(12.022,2.965),(12.028,2.926),(12.037,2.939),(12.044,2.934),(12.051,2.952),(12.061,2.934),(12.071,2.913),(12.076,2.926),(12.083,2.986),(12.090,3.017),(12.098,3.017),(12.105,3.030),(12.112,3.012),(12.120,3.022),(12.126,2.996),(12.134,2.965),(12.141,2.991),(12.149,2.939),(12.156,2.926),(12.161,2.952),(12.168,3.030),(12.175,3.017),(12.183,2.986),(12.190,2.965),(12.197,2.944),(12.205,2.952),(12.211,2.926),(12.217,2.939),(12.225,2.952),(12.232,2.926),(12.239,2.939),(12.246,2.913),(12.254,2.900),(12.261,2.882),(12.271,2.867),(12.280,2.862),(12.295,2.849),(12.314,2.841),(12.334,2.841),(12.353,2.836),(12.373,2.831),(12.393,2.831),(12.407,2.823),(12.414,2.841),(12.422,2.900),(12.427,2.893),(12.432,2.831),(12.441,2.823),(12.449,2.815),(12.457,2.841),(12.466,2.831),(12.476,2.810),(12.485,2.815),(12.495,2.815),(12.505,2.823),(12.515,2.810),(12.524,2.815),(12.534,2.805),(12.541,2.831),(12.551,2.831),(12.558,2.874),(12.566,2.908),(12.573,2.900),(12.580,2.913),(12.586,2.849),(12.593,2.944),(12.600,2.978),(12.607,2.965),(12.612,2.862),(12.619,2.908),(12.627,2.926),(12.634,2.926),(12.638,3.017),(12.644,3.115),(12.651,3.042),(12.656,2.913),(12.663,2.926),(12.671,3.068),(12.678,3.107),(12.683,3.042),(12.687,2.952),(12.693,2.913),(12.700,2.887),(12.707,2.908),(12.713,2.856),(12.720,2.823),(12.727,2.849),(12.734,2.836),(12.742,2.841),(12.749,2.831),(12.754,2.805),(12.761,2.763),(12.773,2.745),(12.788,2.732),(12.802,2.719),(12.817,2.706),(12.832,2.686),(12.841,2.686),(12.849,2.694),(12.856,2.660),(12.861,2.694),(12.868,2.655),(12.875,2.681),(12.882,2.706),(12.890,2.712),(12.895,2.681),(12.902,2.650),(12.910,2.642),(12.917,2.629),(12.924,2.642),(12.931,2.668),(12.939,2.660),(12.945,2.732),(12.951,2.758),(12.957,2.753),(12.961,2.789),(12.966,2.841),(12.973,2.887),(12.978,2.784),(12.986,2.642),(12.993,2.564),(13.002,2.551),(13.015,2.551),(13.025,2.538),(13.035,2.546),(13.044,2.531),(13.056,2.525),(13.066,2.525),(13.076,2.513),(13.086,2.520),(13.093,2.546),(13.100,2.582),(13.107,2.616),(13.113,2.564),(13.120,2.513),(13.130,2.500),(13.139,2.487),(13.154,2.479),(13.173,2.479),(13.193,2.474),(13.212,2.469),(13.232,2.461),(13.251,2.453),(13.271,2.448),(13.290,2.443),(13.310,2.435),(13.329,2.435),(13.344,2.427),(13.354,2.409),(13.363,2.417),(13.376,2.401),(13.388,2.401),(13.398,2.409),(13.407,2.396),(13.417,2.391),(13.427,2.391),(13.441,2.396),(13.451,2.409),(13.458,2.461),(13.466,2.505),(13.474,2.487),(13.481,2.495),(13.490,2.474),(13.498,2.603),(13.504,2.608),(13.511,2.577),(13.519,2.557),(13.527,2.551),(13.534,2.409),(13.543,2.332),(13.553,2.324),(13.563,2.332),(13.568,2.401),(13.576,2.391),(13.580,2.417),(13.587,2.401),(13.595,2.448),(13.602,2.487),(13.612,2.479),(13.621,2.487),(13.629,2.469),(13.636,2.474),(13.643,2.469),(13.648,2.409),(13.656,2.396),(13.665,2.396),(13.672,2.332),(13.680,2.319),(13.690,2.314),(13.696,2.293),(13.704,2.247),(13.714,2.221),(13.724,2.184),(13.734,2.169),(13.745,2.138),(13.758,2.138),(13.771,2.125),(13.777,2.112),(13.784,2.081),(13.792,2.125),(13.802,2.133),(13.812,2.169),(13.817,2.203),(13.823,2.164),(13.831,2.138),(13.839,2.099),(13.846,2.081),(13.853,2.060),(13.858,2.091),(13.865,2.060),(13.873,2.190),(13.878,2.293),(13.883,2.383),(13.890,2.293),(13.896,2.190),(13.900,2.267),(13.906,2.241),(13.911,2.487),(13.917,2.474),(13.922,2.293),(13.929,2.267),(13.936,2.241),(13.943,2.151),(13.950,2.009),(13.956,1.879),(13.963,2.035),(13.970,2.203),(13.978,2.448),(13.985,2.642),(13.992,2.732),(13.997,2.758),(14.004,2.836),(14.012,2.978),(14.018,3.030),(14.026,3.063),(14.034,3.048),(14.041,3.159),(14.048,3.185),(14.054,3.099),(14.060,3.210),(14.065,3.185),(14.072,3.244),(14.078,3.198),(14.085,3.223),(14.091,3.141),(14.096,3.159),(14.102,3.120),(14.109,3.081),(14.116,3.042),(14.124,3.017),(14.134,2.978),(14.141,3.017),(14.148,2.996),(14.156,3.017),(14.163,3.004),(14.169,2.926),(14.175,2.939),(14.182,2.913),(14.188,2.978),(14.194,2.986),(14.200,2.996),(14.207,2.986),(14.214,2.965),(14.220,2.978),(14.226,2.965),(14.233,2.939),(14.239,2.913),(14.246,2.978),(14.251,3.004),(14.256,2.939),(14.262,2.887),(14.270,2.862),(14.278,2.874),(14.285,2.867),(14.292,2.874),(14.300,2.867),(14.307,2.939),(14.314,2.991),(14.321,3.042),(14.327,3.089),(14.334,3.081),(14.341,3.094),(14.348,3.125),(14.356,3.172),(14.363,3.223),(14.370,3.301),(14.376,3.262),(14.381,3.198),(14.387,3.151),(14.395,3.120),(14.402,3.115),(14.409,3.081),(14.416,3.099),(14.424,3.107),(14.431,3.089),(14.438,3.094),(14.446,3.068),(14.454,3.063),(14.460,3.030),(14.465,2.939),(14.473,2.944),(14.480,2.991),(14.487,3.017),(14.495,3.030),(14.502,3.042),(14.509,3.017),(14.516,3.048),(14.524,3.063),(14.532,3.048),(14.538,3.037),(14.545,3.042),(14.553,3.017),(14.561,3.022),(14.568,2.991),(14.575,2.996),(14.582,2.978),(14.590,2.965),(14.597,2.978),(14.604,3.004),(14.612,3.017),(14.619,2.996),(14.626,2.965),(14.633,2.978),(14.641,3.004),(14.649,2.996),(14.655,3.042),(14.662,3.055),(14.668,3.030),(14.675,3.012),(14.682,3.017),(14.690,3.030),(14.697,3.017),(14.704,3.030),(14.711,3.094),(14.717,3.115),(14.724,3.107),(14.731,3.133),(14.739,3.094),(14.746,3.107),(14.753,3.081),(14.760,3.068),(14.768,3.055),(14.776,3.037),(14.782,3.030),(14.789,3.022),(14.797,3.012),(14.805,3.012),(14.812,3.012),(14.818,3.030),(14.824,3.068),(14.831,3.055),(14.838,3.012),(14.846,2.996),(14.854,3.030),(14.860,3.042),(14.867,3.081),(14.873,3.068),(14.880,3.115),(14.887,3.099),(14.895,3.081),(14.901,3.107),(14.906,3.048),(14.912,3.068),(14.919,3.068),(14.924,3.022),(14.930,2.978),(14.936,3.004),(14.941,2.996),(14.948,2.965),(14.958,2.952),(14.973,2.952),(14.987,2.952),(15.002,2.944)]

LWP_PI = [(12.000,2.357),(12.007,2.448),(12.017,2.487),(12.027,2.538),(12.037,2.577),(12.044,2.590),(12.051,2.572),(12.061,2.525),(12.069,2.461),(12.076,2.409),(12.083,2.551),(12.093,2.642),(12.102,2.650),(12.112,2.629),(12.122,2.582),(12.134,2.513),(12.147,2.422),(12.160,2.345),(12.173,2.280),(12.183,2.138),(12.193,1.905),(12.203,1.776),(12.209,1.729),(12.217,1.957),(12.225,2.177),(12.232,2.112),(12.241,2.009),(12.251,1.776),(12.261,1.543),(12.271,1.233),(12.280,1.052),(12.290,0.846),(12.293,0.820),(12.300,np.nan),(12.405,np.nan),(12.409,0.626),(12.417,1.233),(12.427,1.802),(12.434,1.233),(12.441,0.716),(12.449,1.104),(12.458,1.582),(12.466,1.337),(12.476,1.052),(12.485,1.233),(12.492,1.440),(12.500,1.504),(12.510,1.569),(12.519,1.686),(12.527,1.828),(12.537,2.009),(12.546,2.164),(12.556,2.288),(12.566,2.298),(12.575,2.298),(12.583,2.422),(12.592,2.557),(12.602,2.572),(12.612,2.590),(12.625,2.603),(12.632,2.629),(12.641,2.758),(12.651,2.525),(12.661,2.319),(12.671,2.474),(12.680,2.551),(12.690,2.319),(12.703,2.241),(12.715,2.009),(12.724,1.802),(12.736,1.789),(12.749,1.750),(12.759,1.698),(12.768,1.233),(12.778,0.923),(12.785,0.794),(12.793,0.665),(12.800,0.897),(12.810,1.027),(12.815,1.750),(12.820,2.396),(12.824,2.797),(12.830,2.060),(12.836,1.233),(12.841,1.065),(12.849,1.362),(12.857,1.600),(12.866,1.802),(12.875,1.879),(12.885,1.879),(12.895,1.884),(12.907,1.936),(12.917,1.892),(12.927,1.828),(12.937,2.060),(12.949,2.216),(12.956,2.319),(12.963,2.422),(12.970,2.551),(12.975,2.642),(12.980,2.577),(12.986,2.009),(12.991,1.233),(12.993,0.199),(13.000,0.458),(13.007,0.613),(13.017,0.561),(13.025,0.380),(13.029,-0.300),(13.076,-0.300),(13.083,0.458),(13.090,1.466),(13.100,1.750),(13.107,1.918),(13.113,1.595),(13.120,1.259),(13.130,1.182),(13.139,1.078),(13.143,1.073),(13.150,np.nan),(13.270,np.nan),(13.274,-0.300),(13.290,0.329),(13.308,1.027),(13.317,1.032),(13.329,1.039),(13.341,1.130),(13.349,1.091),(13.358,0.975),(13.368,0.846),(13.378,0.716),(13.388,0.587),(13.398,0.548),(13.410,0.496),(13.415,-0.300),(13.437,-0.300),(13.446,0.329),(13.456,1.621),(13.466,1.950),(13.476,2.030),(13.490,2.100),(13.497,2.138),(13.507,2.332),(13.517,2.293),(13.527,2.216),(13.534,1.750),(13.538,1.182),(13.543,-0.300),(13.550,-0.300),(13.558,1.182),(13.566,1.543),(13.576,1.750),(13.585,1.905),(13.595,2.009),(13.605,2.112),(13.612,2.117),(13.626,2.081),(13.641,2.060),(13.651,2.035),(13.660,2.009),(13.670,1.802),(13.680,1.569),(13.690,1.311),(13.704,1.078),(13.716,0.897),(13.726,0.691),(13.736,0.277),(13.743,-0.033),(13.751,0.148),(13.759,0.238),(13.768,0.096),(13.775,-0.300),(13.780,-0.300),(13.787,0.846),(13.797,1.130),(13.807,1.362),(13.817,1.776),(13.826,2.216),(13.831,1.957),(13.839,1.233),(13.844,-0.300),(13.868,-0.300),(13.872,1.233),(13.878,1.711),(13.888,1.905),(13.897,2.060),(13.907,2.203),(13.919,2.138),(13.930,2.009),(13.940,1.802),(13.948,1.492),(13.954,1.156),(13.958,0.820),(13.966,1.621),(13.973,2.009),(13.982,2.319),(13.992,2.681),(14.002,2.758),(14.012,2.784),(14.019,2.862),(14.026,2.939),(14.036,2.836),(14.048,2.732),(14.060,2.681),(14.070,2.771),(14.080,2.841),(14.093,2.887),(14.104,2.823),(14.114,2.629),(14.124,2.474),(14.136,2.383),(14.148,2.474),(14.159,2.572),(14.171,2.401),(14.177,2.262),(14.190,2.339),(14.209,2.513),(14.223,2.254),(14.233,2.376),(14.243,2.448),(14.253,2.371),(14.260,2.254),(14.267,2.060),(14.278,1.698),(14.288,1.776),(14.300,2.138),(14.309,2.371),(14.317,2.513),(14.324,2.738),(14.334,2.797),(14.346,2.836),(14.360,2.849),(14.372,2.823),(14.379,2.732),(14.387,2.577),(14.397,2.546),(14.407,2.531),(14.414,2.551),(14.424,2.557),(14.434,2.487),(14.444,2.401),(14.451,2.293),(14.458,2.184),(14.465,2.293),(14.475,2.422),(14.490,2.448),(14.504,2.500),(14.514,2.525),(14.524,2.520),(14.534,2.487),(14.543,2.448),(14.553,2.513),(14.561,2.551),(14.571,2.448),(14.580,2.345),(14.590,2.241),(14.600,2.288),(14.610,2.236),(14.620,2.138),(14.626,2.040),(14.636,2.164),(14.646,2.293),(14.658,2.487),(14.670,2.448),(14.680,2.409),(14.694,2.357),(14.704,2.525),(14.714,2.590),(14.724,2.629),(14.731,2.590),(14.743,2.448),(14.756,2.293),(14.768,2.112),(14.779,1.931),(14.789,1.776),(14.797,1.543),(14.803,1.337),(14.809,1.195),(14.815,2.009),(14.821,2.784),(14.826,3.159),(14.831,2.836),(14.836,2.319),(14.843,1.750),(14.849,2.009),(14.855,2.216),(14.865,2.396),(14.875,2.531),(14.887,2.513),(14.899,2.474),(14.909,2.409),(14.919,2.267),(14.926,2.099),(14.934,2.112),(14.941,2.151),(14.948,1.879),(14.953,1.518),(14.958,0.846)]

LWP_ADB = [(12.000,2.500),(12.007,2.590),(12.017,2.513),(12.027,2.474),(12.040,2.448),(12.051,2.409),(12.061,2.370),(12.076,2.332),(12.083,2.474),(12.093,2.603),(12.108,2.745),(12.124,2.706),(12.141,2.603),(12.160,2.650),(12.173,2.603),(12.190,2.293),(12.209,1.983),(12.225,2.151),(12.241,1.983),(12.261,2.190),(12.276,1.621),(12.285,1.337),(12.293,1.104),(12.300,np.nan),(12.405,np.nan),(12.409,2.577),(12.427,2.435),(12.441,2.293),(12.456,2.164),(12.471,2.151),(12.490,2.267),(12.508,1.854),(12.525,1.673),(12.539,1.879),(12.559,2.603),(12.573,2.836),(12.593,2.831),(12.607,2.926),(12.632,2.918),(12.646,2.784),(12.661,2.474),(12.676,2.590),(12.690,2.582),(12.705,2.267),(12.724,2.164),(12.739,2.086),(12.754,1.879),(12.768,1.492),(12.778,1.414),(12.790,1.461),(12.800,1.543),(12.810,1.789),(12.816,1.621),(12.823,1.440),(12.831,1.802),(12.841,1.828),(12.849,1.983),(12.856,2.035),(12.866,2.319),(12.873,2.616),(12.885,2.616),(12.895,2.706),(12.907,2.616),(12.921,2.629),(12.937,2.642),(12.949,2.758),(12.961,2.849),(12.973,2.926),(12.980,2.784),(12.986,2.642),(12.993,2.009),(13.002,1.337),(13.009,1.104),(13.017,1.233),(13.025,1.332),(13.034,1.207),(13.041,1.104),(13.056,1.104),(13.074,1.104),(13.081,1.750),(13.088,2.370),(13.094,2.448),(13.100,2.345),(13.107,2.138),(13.115,1.802),(13.123,1.311),(13.133,1.362),(13.143,1.440),(13.150,np.nan),(13.222,np.nan),(13.227,1.168),(13.251,1.156),(13.276,1.143),(13.283,1.337),(13.290,1.518),(13.308,1.531),(13.320,1.362),(13.329,1.220),(13.344,1.414),(13.358,1.504),(13.366,1.440),(13.376,1.518),(13.390,1.608),(13.399,1.492),(13.409,1.298),(13.419,1.375),(13.427,1.401),(13.436,1.543),(13.446,1.776),(13.454,2.164),(13.461,2.706),(13.474,2.732),(13.485,2.753),(13.497,2.681),(13.505,2.616),(13.511,2.603),(13.519,2.616),(13.527,2.706),(13.534,2.267),(13.541,1.543),(13.550,1.879),(13.558,2.306),(13.568,2.241),(13.577,2.177),(13.587,2.216),(13.599,2.370),(13.609,2.681),(13.619,2.474),(13.626,2.357),(13.636,2.293),(13.644,2.254),(13.654,2.151),(13.660,2.022),(13.667,1.983),(13.675,2.009),(13.683,1.750),(13.693,1.311),(13.704,1.156),(13.719,1.143),(13.732,1.156),(13.745,1.168),(13.758,1.104),(13.773,1.440),(13.787,1.453),(13.802,1.595),(13.812,1.698),(13.826,1.802),(13.833,1.673),(13.843,1.569),(13.855,1.549),(13.865,1.724),(13.875,2.035),(13.888,2.164),(13.899,2.267),(13.911,2.293),(13.924,2.500),(13.930,2.370),(13.943,2.112),(13.958,2.319),(13.973,2.655),(13.982,2.887),(13.992,3.094),(13.999,3.017),(14.007,2.939),(14.016,3.017),(14.026,3.120),(14.036,3.068),(14.046,3.030),(14.057,2.996),(14.070,3.030),(14.080,3.068),(14.093,2.991),(14.106,2.913),(14.119,2.874),(14.134,2.849),(14.148,2.836),(14.161,2.867),(14.173,2.706),(14.184,2.732),(14.197,2.810),(14.207,2.939),(14.217,2.797),(14.223,2.732),(14.241,2.738),(14.251,2.784),(14.265,2.862),(14.275,2.681),(14.282,2.009),(14.288,1.621),(14.291,1.440),(14.297,2.396),(14.304,3.042),(14.309,3.262),(14.317,3.198),(14.327,3.141),(14.339,3.141),(14.348,3.210),(14.358,3.301),(14.366,3.366),(14.373,3.301),(14.382,3.094),(14.392,2.939),(14.402,2.862),(14.409,2.763),(14.416,2.926),(14.426,3.017),(14.436,3.068),(14.446,3.073),(14.457,3.068),(14.465,3.089),(14.475,3.099),(14.485,3.048),(14.495,2.996),(14.509,2.900),(14.522,2.965),(14.532,3.004),(14.543,2.939),(14.558,2.913),(14.571,2.784),(14.580,2.655),(14.592,2.474),(14.604,2.603),(14.617,2.660),(14.629,2.629),(14.643,2.564),(14.651,2.836),(14.658,2.991),(14.670,2.926),(14.682,2.810),(14.694,2.706),(14.704,2.701),(14.714,2.758),(14.727,2.784),(14.740,2.732),(14.753,2.616),(14.766,2.448),(14.777,2.293),(14.787,2.164),(14.795,1.957),(14.802,1.621),(14.809,1.401),(14.816,1.621),(14.821,2.474),(14.828,2.681),(14.836,2.525),(14.844,2.319),(14.851,2.370),(14.860,2.525),(14.875,2.823),(14.885,2.836),(14.896,2.784),(14.909,2.719),(14.922,2.603),(14.934,2.474),(14.943,2.409),(14.953,2.009),(14.958,1.724)]

LWP_3C = [(12.000,2.15),(12.005,2.12),(12.010,2.20),(12.020,2.50),(12.030,2.42),(12.040,2.47),(12.050,2.45),(12.060,2.40),(12.070,2.35),(12.080,2.30),(12.085,2.55),(12.090,2.65),(12.100,2.62),(12.110,2.58),(12.120,2.55),(12.130,2.50),(12.140,2.45),(12.150,2.38),(12.160,2.35),(12.170,2.25),(12.180,2.20),(12.190,1.95),(12.200,1.80),(12.210,1.75),(12.220,2.15),(12.230,2.10),(12.240,1.95),(12.250,1.80),(12.260,1.60),(12.270,1.45),(12.280,1.40),(12.290,1.38),(12.300,1.36),(12.320,1.33),(12.340,1.35),(12.360,1.32),(12.380,1.34),(12.400,1.35),(12.410,1.40),(12.418,1.80),(12.425,2.25),(12.430,1.80),(12.435,1.50),(12.445,1.75),(12.455,1.55),(12.460,1.90),(12.470,1.65),(12.480,1.70),(12.490,1.60),(12.500,1.55),(12.510,1.65),(12.520,1.75),(12.530,1.85),(12.540,2.05),(12.550,2.20),(12.560,2.30),(12.565,2.45),(12.570,2.20),(12.580,2.40),(12.590,2.55),(12.600,2.50),(12.610,2.60),(12.620,2.65),(12.630,2.70),(12.640,2.78),(12.650,2.40),(12.660,2.50),(12.670,2.75),(12.675,2.60),(12.680,2.45),(12.690,2.30),(12.700,2.20),(12.710,2.00),(12.720,1.85),(12.730,1.90),(12.740,1.75),(12.750,1.80),(12.760,1.65),(12.770,1.45),(12.780,1.30),(12.790,1.35),(12.800,1.45),(12.810,1.55),(12.820,1.70),(12.830,1.60),(12.840,1.75),(12.850,1.85),(12.860,1.95),(12.870,1.90),(12.880,2.00),(12.890,2.05),(12.900,1.90),(12.910,2.05),(12.920,1.85),(12.930,2.00),(12.940,2.20),(12.950,2.35),(12.960,2.50),(12.970,2.80),(12.975,2.70),(12.980,2.30),(12.990,1.70),(13.000,1.40),(13.010,1.30),(13.020,1.35),(13.030,1.28),(13.040,1.35),(13.050,1.32),(13.060,1.30),(13.070,1.35),(13.080,1.45),(13.090,1.60),(13.100,1.65),(13.110,1.50),(13.120,1.45),(13.130,1.55),(13.140,1.50),(13.150,1.38),(13.170,1.33),(13.190,1.35),(13.210,1.32),(13.220,1.35),(13.230,1.38),(13.250,1.35),(13.270,1.40),(13.290,1.38),(13.300,1.45),(13.310,1.40),(13.320,1.50),(13.330,1.45),(13.340,1.55),(13.350,1.50),(13.360,1.55),(13.370,1.45),(13.380,1.50),(13.390,1.40),(13.400,1.45),(13.410,1.35),(13.420,1.30),(13.430,1.38),(13.440,1.45),(13.450,1.70),(13.460,2.10),(13.470,2.20),(13.480,2.25),(13.490,2.35),(13.500,2.40),(13.510,2.30),(13.520,2.20),(13.530,2.00),(13.540,1.40),(13.550,1.40),(13.560,1.60),(13.570,1.90),(13.580,2.00),(13.590,2.10),(13.600,2.15),(13.610,2.20),(13.620,2.15),(13.630,2.20),(13.640,2.12),(13.650,2.00),(13.660,1.95),(13.670,1.85),(13.680,1.70),(13.690,1.55),(13.700,1.45),(13.710,1.50),(13.720,1.40),(13.730,1.45),(13.740,1.35),(13.750,1.42),(13.760,1.35),(13.770,1.40),(13.780,1.45),(13.790,1.50),(13.800,1.55),(13.810,1.70),(13.820,1.80),(13.830,1.75),(13.840,1.50),(13.850,1.45),(13.860,1.55),(13.870,1.80),(13.880,2.05),(13.890,2.10),(13.900,2.20),(13.910,2.30),(13.920,2.15),(13.930,2.10),(13.940,1.80),(13.950,1.50),(13.955,1.35),(13.960,1.60),(13.970,2.00),(13.980,2.40),(13.990,2.65),(14.000,2.70),(14.010,2.85),(14.020,2.95),(14.030,2.85),(14.040,2.65),(14.050,2.60),(14.060,2.55),(14.070,2.75),(14.080,2.85),(14.090,2.75),(14.100,2.70),(14.110,2.55),(14.120,2.30),(14.130,2.10),(14.140,2.25),(14.150,2.35),(14.160,2.50),(14.170,2.20),(14.180,1.95),(14.190,2.35),(14.200,2.40),(14.210,2.55),(14.220,2.30),(14.230,2.10),(14.240,2.40),(14.250,2.20),(14.260,2.00),(14.270,1.85),(14.280,1.60),(14.285,1.50),(14.290,1.75),(14.300,2.10),(14.310,2.40),(14.320,2.65),(14.330,2.75),(14.340,2.80),(14.350,2.85),(14.360,2.90),(14.370,2.88),(14.380,2.70),(14.390,2.60),(14.400,2.55),(14.410,2.45),(14.420,2.50),(14.430,2.40),(14.440,2.35),(14.450,2.30),(14.460,2.15),(14.470,2.35),(14.480,2.45),(14.490,2.50),(14.500,2.40),(14.510,2.50),(14.520,2.45),(14.530,2.55),(14.540,2.45),(14.550,2.50),(14.560,2.35),(14.570,2.20),(14.580,2.10),(14.590,2.05),(14.600,1.95),(14.610,2.20),(14.620,2.30),(14.630,2.05),(14.640,2.25),(14.650,2.40),(14.660,2.45),(14.670,2.35),(14.680,2.40),(14.690,2.30),(14.700,2.45),(14.710,2.55),(14.720,2.60),(14.730,2.45),(14.740,2.30),(14.750,2.10),(14.760,1.95),(14.770,1.90),(14.780,1.75),(14.790,1.60),(14.800,1.40),(14.810,1.30),(14.815,1.80),(14.820,2.60),(14.825,2.20),(14.830,1.90),(14.840,1.75),(14.850,2.00),(14.860,2.20),(14.870,2.30),(14.880,2.55),(14.890,2.50),(14.900,2.45),(14.910,2.40),(14.920,2.20),(14.930,2.00),(14.940,1.90),(14.950,1.40),(14.960,1.30),(14.970,1.28),(14.980,1.25),(14.990,1.30),(15.000,1.32)]

# uncertainty bands (time, low, high)
ADB_BAND = [(12.000,2.42,2.62),(12.007,2.50,2.68),(12.030,2.38,2.57),(12.060,2.28,2.46),(12.076,2.25,2.42),(12.083,2.38,2.56),(12.108,2.66,2.83),(12.124,2.62,2.79),(12.141,2.52,2.69),(12.160,2.57,2.74),(12.173,2.52,2.69),(12.190,2.20,2.38),(12.209,1.88,2.08),(12.225,2.05,2.25),(12.241,1.88,2.08),(12.261,2.08,2.29),(12.276,1.45,1.75),(12.285,1.10,1.50),(12.293,0.80,1.30),(12.300,np.nan,np.nan),(12.409,2.48,2.67),(12.427,2.33,2.53),(12.441,2.17,2.40),(12.456,2.00,2.30),(12.471,1.99,2.30),(12.490,2.10,2.40),(12.508,1.65,2.00),(12.525,1.45,1.85),(12.539,1.70,2.00),(12.559,2.50,2.70),(12.573,2.76,2.90),(12.607,2.86,2.99),(12.632,2.85,2.98),(12.646,2.71,2.85),(12.661,2.39,2.55),(12.690,2.50,2.66),(12.724,2.07,2.26),(12.754,1.76,2.00),(12.778,1.25,1.58),(12.800,1.40,1.68),(12.816,1.50,1.75),(12.823,1.30,1.60),(12.849,1.87,2.10),(12.866,2.22,2.42),(12.873,2.53,2.70),(12.895,2.62,2.79),(12.921,2.54,2.72),(12.949,2.67,2.85),(12.973,2.86,2.99),(12.986,2.56,2.72),(12.993,1.85,2.15),(13.002,1.00,1.60),(13.009,0.70,1.45),(13.025,0.90,1.55),(13.041,0.60,1.45),(13.074,0.55,1.45),(13.081,1.55,1.90),(13.094,2.35,2.55),(13.107,2.00,2.28),(13.123,1.00,1.55),(13.143,1.10,1.65),(13.150,np.nan,np.nan),(13.227,0.50,1.45),(13.276,0.45,1.45),(13.290,1.20,1.75),(13.308,1.20,1.80),(13.329,0.85,1.50),(13.358,1.20,1.75),(13.390,1.35,1.85),(13.409,0.95,1.55),(13.436,1.30,1.80),(13.454,2.00,2.30),(13.461,2.60,2.80),(13.485,2.66,2.84),(13.513,2.55,2.73),(13.534,2.15,2.38),(13.541,1.35,1.72),(13.558,2.20,2.40),(13.599,2.25,2.48),(13.609,2.58,2.78),(13.654,2.05,2.25),(13.683,1.60,1.90),(13.693,1.05,1.55),(13.704,0.70,1.45),(13.745,0.60,1.45),(13.758,0.55,1.40),(13.773,1.15,1.65),(13.802,1.35,1.78),(13.826,1.60,1.95),(13.843,1.35,1.75),(13.865,1.55,1.88),(13.875,1.90,2.15),(13.911,2.20,2.40),(13.943,1.98,2.24),(13.973,2.55,2.75),(13.992,3.02,3.16),(14.026,3.05,3.19),(14.106,2.84,2.98),(14.161,2.80,2.93),(14.207,2.87,3.00),(14.241,2.67,2.81),(14.275,2.60,2.76),(14.288,1.45,1.80),(14.297,2.30,2.50),(14.309,3.20,3.32),(14.366,3.31,3.42),(14.392,2.87,3.01),(14.409,2.69,2.83),(14.436,3.00,3.13),(14.475,3.03,3.16),(14.509,2.83,2.97),(14.532,2.94,3.07),(14.558,2.84,2.98),(14.592,2.39,2.56),(14.617,2.58,2.74),(14.643,2.48,2.64),(14.658,2.92,3.06),(14.694,2.63,2.78),(14.727,2.71,2.85),(14.766,2.37,2.52),(14.795,1.85,2.06),(14.809,1.25,1.55),(14.821,2.40,2.55),(14.844,2.24,2.40),(14.875,2.75,2.89),(14.909,2.65,2.79),(14.943,2.32,2.49),(14.953,1.90,2.12),(14.958,1.60,1.85)]

PI_BAND = [(12.000,2.30,2.42),(12.100,2.60,2.70),(12.183,2.05,2.20),(12.209,1.60,1.85),(12.225,2.10,2.25),(12.251,1.65,1.87),(12.261,1.35,1.65),(12.271,0.70,1.45),(12.280,-0.30,1.30),(12.293,-0.30,1.10),(12.300,np.nan,np.nan),(12.409,-0.30,1.00),(12.417,0.60,1.60),(12.427,1.55,1.95),(12.434,0.70,1.50),(12.441,-0.30,1.10),(12.449,0.40,1.45),(12.458,1.20,1.78),(12.466,0.90,1.60),(12.476,-0.30,1.40),(12.485,0.60,1.50),(12.500,1.05,1.70),(12.519,1.40,1.85),(12.537,1.85,2.12),(12.556,2.20,2.36),(12.600,2.52,2.62),(12.610,np.nan,np.nan),(12.759,1.55,1.80),(12.778,0.40,1.15),(12.793,-0.30,0.95),(12.810,0.50,1.25),(12.824,2.70,2.88),(12.836,0.70,1.45),(12.841,0.40,1.30),(12.857,1.35,1.75),(12.885,1.75,1.98),(12.907,1.80,2.05),(12.927,1.65,1.95),(12.949,2.10,2.30),(12.975,2.58,2.70),(12.986,1.80,2.15),(12.993,-0.30,0.90),(13.000,-0.30,1.00),(13.017,-0.30,1.00),(13.025,-0.30,0.95),(13.076,-0.30,0.90),(13.083,-0.30,1.00),(13.090,1.10,1.70),(13.107,1.75,2.05),(13.120,0.90,1.50),(13.143,0.60,1.35),(13.150,np.nan,np.nan),(13.276,-0.30,0.95),(13.290,-0.30,0.90),(13.308,0.50,1.35),(13.341,0.70,1.40),(13.378,0.20,1.20),(13.410,-0.30,1.05),(13.437,-0.30,1.00),(13.446,-0.30,1.10),(13.456,1.30,1.85),(13.466,1.80,2.10),(13.495,2.02,2.18),(13.507,2.25,2.40),(13.527,2.12,2.30),(13.534,1.50,1.95),(13.543,-0.30,1.10),(13.558,0.90,1.45),(13.576,1.60,1.88),(13.600,1.95,2.12),(13.660,1.90,2.10),(13.680,1.35,1.75),(13.704,0.75,1.35),(13.726,0.20,1.10),(13.743,-0.30,0.90),(13.768,-0.30,0.90),(13.787,0.50,1.15),(13.807,1.10,1.60),(13.826,2.05,2.35),(13.839,0.90,1.50),(13.844,-0.30,1.00),(13.868,-0.30,1.00),(13.878,1.45,1.90),(13.907,2.10,2.30),(13.940,1.60,1.95),(13.958,0.40,1.20),(13.966,1.35,1.80),(13.992,2.60,2.75),(14.000,np.nan,np.nan),(14.779,1.85,2.00),(14.797,1.35,1.70),(14.809,-0.30,1.45),(14.815,1.70,2.20),(14.826,3.10,3.22),(14.843,1.50,1.90),(14.875,2.47,2.59),(14.934,2.05,2.17),(14.948,1.70,2.00),(14.953,1.10,1.80),(14.958,-0.30,1.20)]

# background flag strips (start, end, colour)
P1_TAN = [(12.0, 13.032), (14.006, 15.006)]
P3_TAN = [(12.817, 12.833), (13.817, 13.833), (14.817, 14.833)]
P3_BROWN = [(12.0, 12.817), (12.833, 13.817), (13.833, 14.817), (14.833, 15.006)]
P4_STRIPS = [(12.083, 12.101, "cyan"), (12.283, 12.300, "lightgray"), (12.300, 12.400, "yellow"),
             (12.400, 12.416, "lightgray"), (12.634, 12.782, "cyan"), (12.782, 12.800, "lightgray"),
             (12.817, 12.834, "lightgray"), (13.000, 13.017, "lightgray"), (13.034, 13.084, "lightgray"),
             (13.151, 13.217, "yellow"), (13.217, 13.283, "lightgray"), (13.317, 13.349, "lightgray"),
             (13.749, 13.767, "lightgray"), (14.000, 14.132, "cyan"), (14.200, 14.283, "cyan"),
             (14.283, 14.300, "lightgray"), (14.333, 14.415, "cyan"), (14.701, 14.800, "cyan"),
             (14.817, 14.850, "cyan"), (14.967, 15.006, "yellow")]

# Panel 5 : DQ flag, runs of (flag, first minute, last minute) after 12 UTC
DQ_RUNS = [(0,0,4),(0,6,16),(10,5,5),(11,5,5),(4,17,17),(5,18,23),(3,24,24),(0,25,37),(11,38,46),(10,38,40),
           (3,47,47),(0,48,48),(4,49,49),(0,50,59),(4,60,60),(0,61,61),(4,62,62),(3,63,63),(4,64,64),(0,65,68),
           (5,69,72),(4,73,76),(0,77,78),(4,79,80),(0,81,104),(4,105,105),(0,106,119),(11,120,127),(10,120,126),
           (6,121,121),(6,126,126),(0,128,131),(11,132,136),(10,132,134),(6,133,133),(4,137,137),(0,138,139),
           (11,140,144),(10,140,143),(9,141,141),(0,145,151),(6,152,152),(0,153,161),(11,162,167),(10,162,163),
           (0,168,168),(11,169,170),(7,169,169),(6,169,169),(0,171,177),(5,178,180)]
DQ_OFFSET_MIN = 0.45

# ---------------------------------------------------------------- style
MBLUE = "#0072BD"
DARK = "#262626"
C2C = "#0000FF"
C3C = "#ADD8E6"
CPI = "#FF8C00"
CADB = "#800080"
TAN = "#D2B48C"
BROWN = "#A52A2A"

plt.rcParams["font.family"] = ["DejaVu Sans"]

fig = plt.figure(figsize=(12.75, 20), dpi=300)
LEFT, WIDTH, HEIGHT = 0.09804, 0.68706, 0.1512
BOTTOMS = [0.7995, 0.6120, 0.4245, 0.2370, 0.0495]
axes = [fig.add_axes([LEFT, b, WIDTH, HEIGHT]) for b in BOTTOMS]


def arr(pairs):
    a = np.array(pairs, dtype=float)
    return a[:, 0], a[:, 1]


def style(ax, ylim, yticks, ylabel):
    ax.set_xlim(12, 15)
    ax.set_ylim(*ylim)
    ax.set_xticks(XTICKS)
    ax.set_xticklabels(XTICKLABELS)
    ax.set_yticks(yticks)
    ax.set_yticklabels([f"{v:g}" for v in yticks])
    ax.spines["top"].set_visible(False)
    for s in ("left", "right"):
        ax.spines[s].set_color(MBLUE)
        ax.spines[s].set_linewidth(0.6)
    ax.spines["bottom"].set_color(DARK)
    ax.spines["bottom"].set_linewidth(0.6)
    ax.tick_params(axis="x", direction="in", length=6.5, width=0.5, colors=DARK, labelsize=9, pad=8)
    ax.tick_params(axis="y", direction="in", length=6.5, width=0.5, colors=MBLUE, labelsize=9, pad=7)
    ax.set_xlabel(XLABEL, fontsize=11.2, color=DARK, labelpad=6)
    ax.set_ylabel(ylabel, fontsize=11.2, color=MBLUE, labelpad=8)


def span(ax, x0, x1, color, ext=0.0):
    ax.axvspan(x0, x1, ymin=-ext, ymax=1.0, color=color, alpha=0.5, lw=0, zorder=3, clip_on=(ext == 0.0))


def legend(ax, handles, labels, x, y):
    leg = ax.legend(handles, labels, loc="upper left", bbox_to_anchor=(x, y), bbox_transform=fig.transFigure,
                    frameon=False, fontsize=9.3, handlelength=6.0, handletextpad=0.66, labelspacing=0.50,
                    borderpad=0, borderaxespad=0)
    leg.set_zorder(10)
    for t in leg.get_texts():
        t.set_linespacing(1.49)
    return leg


# ---------------------------------------------------------------- panel 1
ax = axes[0]
h1, = ax.plot(*arr(BT23_2C), color=C2C, lw=0.75)
h2, = ax.plot(*arr(BT23_3C), color=C3C, lw=1.0)
h3, = ax.plot(*arr(BT23_PI), color=CPI, lw=2.1)
for a, b in P1_TAN:
    span(ax, a, b, TAN, ext=0.009)
style(ax, (25.0, 103.8), [30, 40, 50, 60, 70, 80, 90, 100], "Zenith BT 23 GHz, K")
legend(ax, [h1, h2, h3], ["MWR 2C (tan = wet window)", "MWR 3C", "Phy-Iter"], 0.1637, 0.9370)

# ---------------------------------------------------------------- panel 2
ax = axes[1]
h1, = ax.plot(*arr(BT31_2C), color=C2C, lw=0.75)
h2, = ax.plot(*arr(BT31_3C), color=C3C, lw=1.0)
h3, = ax.plot(*arr(BT31_PI), color=CPI, lw=2.1)
style(ax, (12.2, 114.7), [20, 30, 40, 50, 60, 70, 80, 90, 100, 110], "Zenith BT 31 GHz, K")
legend(ax, [h1, h2, h3], ["MWR2C", "MWR 3C", "Phy-Iter"], 0.3004, 0.7501)

# ---------------------------------------------------------------- panel 3
ax = axes[2]
h1, = ax.plot(*arr(PWV_2C), color=C2C, lw=0.75)
h2, = ax.plot(*arr(PWV_3C), color=C3C, lw=1.0)
tp, vp = arr(PWV_PI)
ax.fill_between(tp, vp - PWV_PI_ERR, vp + PWV_PI_ERR, color=CPI, alpha=0.3, lw=0)
h3, = ax.plot(tp, vp, color=CPI, lw=2.1)
for a, b in P3_BROWN:
    span(ax, a, b, BROWN, ext=0.011)
for a, b in P3_TAN:
    span(ax, a, b, TAN, ext=0.011)
style(ax, (1.478, 3.0707), [1.5, 2, 2.5, 3], "Precip. Water Vapor, mm")
legend(ax, [h1, h2, h3], ["MWR 2C PWV", "MWR 3C PWV",
                          "Phy-Iter PWV\n(tan = MWR 2C only)\n(brown = MWR 3C only)"], 0.3477, 0.5592)

# ---------------------------------------------------------------- panel 4
ax = axes[3]
ab = np.array(PI_BAND, dtype=float)
ax.fill_between(ab[:, 0], ab[:, 1], ab[:, 2], color=CPI, alpha=0.2, lw=0)
ab = np.array(ADB_BAND, dtype=float)
ax.fill_between(ab[:, 0], ab[:, 1], ab[:, 2], color=CADB, alpha=0.2, lw=0)
h2, = ax.plot(*arr(LWP_3C), color=C3C, lw=1.0)
h1, = ax.plot(*arr(LWP_2C), color=C2C, lw=0.75)
h3, = ax.plot(*arr(LWP_PI), color=CPI, lw=2.1)
h4, = ax.plot(*arr(LWP_ADB), color=CADB, lw=0.9)
for a, b, c in P4_STRIPS:
    span(ax, a, b, c, ext=0.0 if b <= 15 else 1e-9)
style(ax, (-0.1, 3.73), [0, 0.5, 1, 1.5, 2, 2.5, 3, 3.5], "log10 Liquid Water Path, log10(g/m$^2$)")
legend(ax, [h1, h2, h3, h4], ["MWR 2C LWP", "MWR 3C LWP", "Phy-Iter LWP", "Adiabatic LWP"], 0.6013, 0.2794)

# ---------------------------------------------------------------- panel 5
ax = axes[4]
dq_t, dq_v = [], []
for flag, m0, m1 in DQ_RUNS:
    for m in range(m0, m1 + 1):
        dq_t.append(12 + (m + DQ_OFFSET_MIN) / 60.0)
        dq_v.append(flag)
ax.plot(dq_t, dq_v, linestyle="none", marker="o", ms=1.8, color=CPI, mec="none", clip_on=False)
style(ax, (-0.5, 11.5), [0, 2, 4, 6, 8, 10], "MWR Phy Iter DQ Flag")

fig.savefig("out.png", dpi=300)
